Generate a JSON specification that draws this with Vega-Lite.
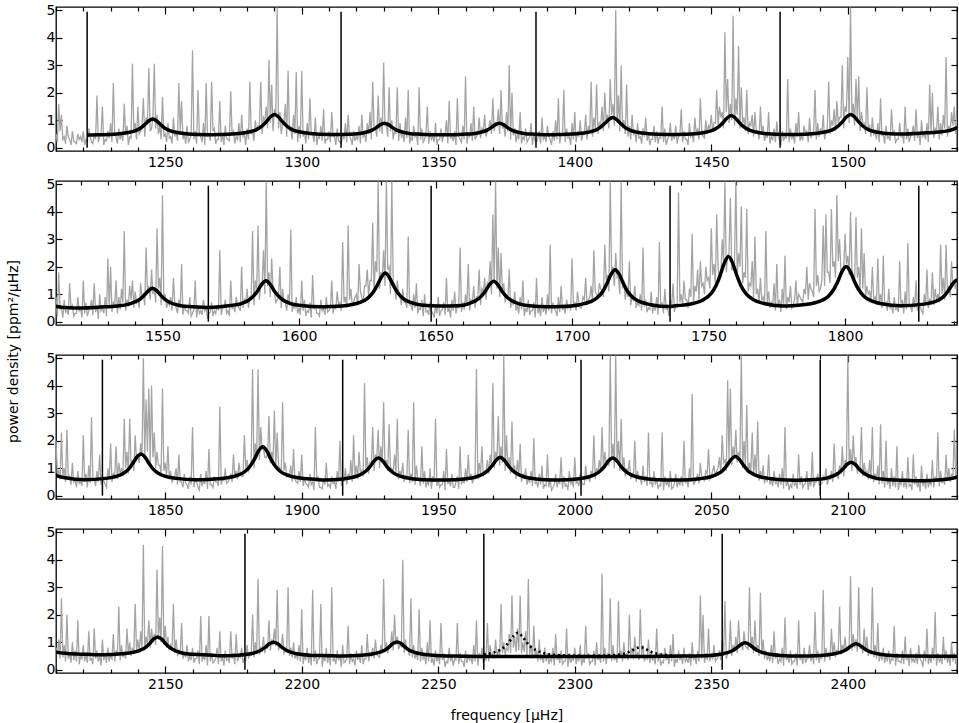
{
"$schema": "https://vega.github.io/schema/vega-lite/v6.json",
"background": "white",
"padding": {"left": 5, "top": 2, "right": 2, "bottom": 2},
"spacing": 30,
"bounds": "flush",
"config": {
  "view": {"stroke": "black", "strokeWidth": 1.3},
  "font": "DejaVu Sans",
  "axis": {"grid": false, "domain": false, "labelFont": "DejaVu Sans", "labelFontSize": 14, "labelColor": "black", "tickColor": "black", "tickWidth": 1.2, "titleFont": "DejaVu Sans", "titleFontSize": 14, "titleFontWeight": "normal", "titleColor": "black", "labelFlush": false, "labelOverlap": false}
},
"datasets": {
"vl": [{"f":1221.4},{"f":1314.4},{"f":1385.8},{"f":1475.2},{"f":1566.8},{"f":1648.4},{"f":1735.9},{"f":1827},{"f":1915.0},{"f":2002.3},{"f":2089.9},{"f":2179.2},{"f":2266.7},{"f":2354.0}],
"dot": [{"f":2266.7,"p":0.56},{"f":2270.1,"p":0.62},{"f":2272.6,"p":0.72},{"f":2274.6,"p":0.86},{"f":2276.1,"p":1.03},{"f":2277.6,"p":1.23},{"f":2279.1,"p":1.34},{"f":2280.6,"p":1.23},{"f":2282.1,"p":1.03},{"f":2283.6,"p":0.86},{"f":2285.6,"p":0.72},{"f":2288.1,"p":0.62},{"f":2292.1,"p":0.55},{"f":2299.1,"p":0.51},{"f":2304,"p":0.50},{"f":2311,"p":0.51},{"f":2315,"p":0.54},{"f":2317.5,"p":0.57},{"f":2319.5,"p":0.63},{"f":2321,"p":0.70},{"f":2322.5,"p":0.78},{"f":2324,"p":0.82},{"f":2325.5,"p":0.78},{"f":2327,"p":0.70},{"f":2328.5,"p":0.63},{"f":2330.5,"p":0.57},{"f":2333,"p":0.54},{"f":2337,"p":0.51},{"f":2344,"p":0.49}],
"fit": [
{"f":1221.4,"p":0.46},{"f":1225.4,"p":0.47},{"f":1232.4,"p":0.50},{"f":1236.4,"p":0.55},{"f":1238.9,"p":0.61},{"f":1240.9,"p":0.71},{"f":1242.4,"p":0.83},{"f":1243.9,"p":0.97},{"f":1245.4,"p":1.04},{"f":1246.9,"p":0.97},{"f":1248.4,"p":0.83},{"f":1249.9,"p":0.71},{"f":1251.9,"p":0.61},{"f":1254.4,"p":0.55},{"f":1258.4,"p":0.50},{"f":1265.4,"p":0.47},
{"f":1270,"p":0.48},{"f":1277,"p":0.52},{"f":1281,"p":0.58},{"f":1283.5,"p":0.66},{"f":1285.5,"p":0.79},{"f":1287,"p":0.94},{"f":1288.5,"p":1.12},{"f":1290,"p":1.21},{"f":1291.5,"p":1.12},{"f":1293,"p":0.94},{"f":1294.5,"p":0.79},{"f":1296.5,"p":0.66},{"f":1299,"p":0.58},{"f":1303,"p":0.52},{"f":1310.2,"p":0.48},
{"f":1317.3,"p":0.49},{"f":1321.3,"p":0.52},{"f":1323.8,"p":0.57},{"f":1325.8,"p":0.64},{"f":1327.3,"p":0.73},{"f":1328.8,"p":0.84},{"f":1330.3,"p":0.89},{"f":1331.8,"p":0.84},{"f":1333.3,"p":0.73},{"f":1334.8,"p":0.64},{"f":1336.8,"p":0.57},{"f":1339.3,"p":0.52},{"f":1343.3,"p":0.49},{"f":1350.3,"p":0.47},
{"f":1352.4,"p":0.47},{"f":1359.4,"p":0.49},{"f":1363.4,"p":0.52},{"f":1365.9,"p":0.57},{"f":1367.9,"p":0.64},{"f":1369.4,"p":0.73},{"f":1370.9,"p":0.84},{"f":1372.4,"p":0.89},{"f":1373.9,"p":0.84},{"f":1375.4,"p":0.73},{"f":1376.9,"p":0.64},{"f":1378.9,"p":0.57},{"f":1381.4,"p":0.52},{"f":1385.4,"p":0.49},{"f":1392.4,"p":0.47},
{"f":1393.9,"p":0.48},{"f":1400.9,"p":0.51},{"f":1404.9,"p":0.56},{"f":1407.4,"p":0.63},{"f":1409.4,"p":0.74},{"f":1410.9,"p":0.87},{"f":1412.4,"p":1.02},{"f":1413.9,"p":1.10},{"f":1415.4,"p":1.02},{"f":1416.9,"p":0.87},{"f":1418.4,"p":0.74},{"f":1420.4,"p":0.63},{"f":1422.9,"p":0.56},{"f":1426.9,"p":0.51},{"f":1433.9,"p":0.48},
{"f":1437.3,"p":0.48},{"f":1444.3,"p":0.51},{"f":1448.3,"p":0.57},{"f":1450.8,"p":0.65},{"f":1452.8,"p":0.77},{"f":1454.3,"p":0.91},{"f":1455.8,"p":1.08},{"f":1457.3,"p":1.17},{"f":1458.8,"p":1.08},{"f":1460.3,"p":0.91},{"f":1461.8,"p":0.77},{"f":1463.8,"p":0.65},{"f":1466.3,"p":0.57},{"f":1470.3,"p":0.51},{"f":1477.3,"p":0.48},
{"f":1481,"p":0.48},{"f":1488,"p":0.52},{"f":1492,"p":0.58},{"f":1494.5,"p":0.66},{"f":1496.5,"p":0.79},{"f":1498,"p":0.94},{"f":1499.5,"p":1.12},{"f":1501,"p":1.21},{"f":1502.5,"p":1.12},{"f":1504,"p":0.94},{"f":1505.5,"p":0.79},{"f":1507.5,"p":0.66},{"f":1510,"p":0.58},{"f":1514,"p":0.52},{"f":1521,"p":0.50},
{"f":1526.4,"p":0.53},{"f":1533.4,"p":0.57},{"f":1537.4,"p":0.63},{"f":1539.9,"p":0.72},{"f":1541.9,"p":0.83},{"f":1543.4,"p":0.97},{"f":1544.9,"p":1.13},{"f":1546.4,"p":1.22},{"f":1547.9,"p":1.13},{"f":1549.4,"p":0.96},{"f":1550.9,"p":0.81},{"f":1552.9,"p":0.69},{"f":1555.4,"p":0.61},{"f":1559.4,"p":0.55},{"f":1566.4,"p":0.52},
{"f":1574.9,"p":0.59},{"f":1578.9,"p":0.66},{"f":1581.4,"p":0.77},{"f":1583.4,"p":0.94},{"f":1584.9,"p":1.13},{"f":1586.4,"p":1.37},{"f":1587.9,"p":1.49},{"f":1589.4,"p":1.37},{"f":1590.9,"p":1.13},{"f":1592.4,"p":0.94},{"f":1594.4,"p":0.77},{"f":1596.9,"p":0.66},{"f":1600.9,"p":0.59},{"f":1607.9,"p":0.54},
{"f":1611.6,"p":0.55},{"f":1618.6,"p":0.61},{"f":1622.6,"p":0.71},{"f":1625.1,"p":0.85},{"f":1627.1,"p":1.06},{"f":1628.6,"p":1.31},{"f":1630.1,"p":1.61},{"f":1631.6,"p":1.77},{"f":1633.1,"p":1.61},{"f":1634.6,"p":1.31},{"f":1636.1,"p":1.06},{"f":1638.1,"p":0.85},{"f":1640.6,"p":0.71},{"f":1644.6,"p":0.61},{"f":1651.4,"p":0.57},
{"f":1658.3,"p":0.58},{"f":1662.3,"p":0.66},{"f":1664.8,"p":0.77},{"f":1666.8,"p":0.93},{"f":1668.3,"p":1.12},{"f":1669.8,"p":1.35},{"f":1671.3,"p":1.47},{"f":1672.8,"p":1.35},{"f":1674.3,"p":1.12},{"f":1675.8,"p":0.93},{"f":1677.8,"p":0.77},{"f":1680.3,"p":0.66},{"f":1684.3,"p":0.58},{"f":1691.3,"p":0.54},
{"f":1695.8,"p":0.55},{"f":1702.8,"p":0.62},{"f":1706.8,"p":0.73},{"f":1709.3,"p":0.88},{"f":1711.3,"p":1.11},{"f":1712.8,"p":1.39},{"f":1714.3,"p":1.72},{"f":1715.8,"p":1.89},{"f":1717.3,"p":1.72},{"f":1718.8,"p":1.39},{"f":1720.3,"p":1.11},{"f":1722.3,"p":0.88},{"f":1724.8,"p":0.73},{"f":1728.8,"p":0.62},{"f":1735.8,"p":0.55},
{"f":1737.3,"p":0.57},{"f":1744.3,"p":0.66},{"f":1748.3,"p":0.81},{"f":1750.8,"p":1.01},{"f":1752.8,"p":1.33},{"f":1754.3,"p":1.70},{"f":1755.8,"p":2.14},{"f":1757.3,"p":2.37},{"f":1758.8,"p":2.14},{"f":1760.3,"p":1.70},{"f":1761.8,"p":1.33},{"f":1763.8,"p":1.01},{"f":1766.3,"p":0.81},{"f":1770.3,"p":0.66},{"f":1777.3,"p":0.57},
{"f":1780.4,"p":0.58},{"f":1787.4,"p":0.65},{"f":1791.4,"p":0.77},{"f":1793.9,"p":0.93},{"f":1795.9,"p":1.18},{"f":1797.4,"p":1.47},{"f":1798.9,"p":1.83},{"f":1800.4,"p":2.01},{"f":1801.9,"p":1.83},{"f":1803.4,"p":1.47},{"f":1804.9,"p":1.18},{"f":1806.9,"p":0.93},{"f":1809.4,"p":0.77},{"f":1813.4,"p":0.65},{"f":1820.4,"p":0.58},
{"f":1828.1,"p":0.63},{"f":1832.1,"p":0.70},{"f":1834.6,"p":0.81},{"f":1836.6,"p":0.97},{"f":1838.1,"p":1.17},{"f":1839.6,"p":1.40},{"f":1841.1,"p":1.52},{"f":1842.6,"p":1.40},{"f":1844.1,"p":1.17},{"f":1845.6,"p":0.97},{"f":1847.6,"p":0.81},{"f":1850.1,"p":0.70},{"f":1854.1,"p":0.63},{"f":1861.1,"p":0.58},
{"f":1865.7,"p":0.59},{"f":1872.7,"p":0.65},{"f":1876.7,"p":0.75},{"f":1879.2,"p":0.88},{"f":1881.2,"p":1.09},{"f":1882.7,"p":1.33},{"f":1884.2,"p":1.63},{"f":1885.7,"p":1.78},{"f":1887.2,"p":1.63},{"f":1888.7,"p":1.33},{"f":1890.2,"p":1.09},{"f":1892.2,"p":0.88},{"f":1894.7,"p":0.75},{"f":1898.7,"p":0.65},{"f":1905.7,"p":0.59},
{"f":1908.1,"p":0.57},{"f":1915.1,"p":0.61},{"f":1919.1,"p":0.68},{"f":1921.6,"p":0.77},{"f":1923.6,"p":0.91},{"f":1925.1,"p":1.07},{"f":1926.6,"p":1.27},{"f":1928.1,"p":1.37},{"f":1929.6,"p":1.27},{"f":1931.1,"p":1.07},{"f":1932.6,"p":0.91},{"f":1934.6,"p":0.77},{"f":1937.1,"p":0.68},{"f":1941.1,"p":0.61},{"f":1948.1,"p":0.57},
{"f":1952.7,"p":0.57},{"f":1959.7,"p":0.61},{"f":1963.7,"p":0.68},{"f":1966.2,"p":0.78},{"f":1968.2,"p":0.92},{"f":1969.7,"p":1.09},{"f":1971.2,"p":1.29},{"f":1972.7,"p":1.40},{"f":1974.2,"p":1.29},{"f":1975.7,"p":1.09},{"f":1977.2,"p":0.92},{"f":1979.2,"p":0.78},{"f":1981.7,"p":0.68},{"f":1985.7,"p":0.61},{"f":1992.7,"p":0.57},
{"f":1993.9,"p":0.57},{"f":2000.9,"p":0.61},{"f":2004.9,"p":0.68},{"f":2007.4,"p":0.77},{"f":2009.4,"p":0.91},{"f":2010.9,"p":1.07},{"f":2012.4,"p":1.27},{"f":2013.9,"p":1.37},{"f":2015.4,"p":1.27},{"f":2016.9,"p":1.07},{"f":2018.4,"p":0.91},{"f":2020.4,"p":0.77},{"f":2022.9,"p":0.68},{"f":2026.9,"p":0.61},{"f":2033.9,"p":0.57},
{"f":2038.8,"p":0.57},{"f":2045.8,"p":0.62},{"f":2049.8,"p":0.69},{"f":2052.3,"p":0.79},{"f":2054.3,"p":0.93},{"f":2055.8,"p":1.11},{"f":2057.3,"p":1.32},{"f":2058.8,"p":1.43},{"f":2060.3,"p":1.32},{"f":2061.8,"p":1.11},{"f":2063.3,"p":0.93},{"f":2065.3,"p":0.79},{"f":2067.8,"p":0.69},{"f":2071.8,"p":0.62},{"f":2078.8,"p":0.57},
{"f":2081.2,"p":0.56},{"f":2088.2,"p":0.59},{"f":2092.2,"p":0.64},{"f":2094.7,"p":0.72},{"f":2096.7,"p":0.83},{"f":2098.2,"p":0.97},{"f":2099.7,"p":1.14},{"f":2101.2,"p":1.22},{"f":2102.7,"p":1.14},{"f":2104.2,"p":0.97},{"f":2105.7,"p":0.83},{"f":2107.7,"p":0.72},{"f":2110.2,"p":0.64},{"f":2114.2,"p":0.59},{"f":2121.2,"p":0.56},
{"f":2127.2,"p":0.54},{"f":2134.2,"p":0.58},{"f":2138.2,"p":0.63},{"f":2140.7,"p":0.70},{"f":2142.7,"p":0.80},{"f":2144.2,"p":0.94},{"f":2145.7,"p":1.11},{"f":2147.2,"p":1.19},{"f":2148.7,"p":1.11},{"f":2150.2,"p":0.94},{"f":2151.7,"p":0.80},{"f":2153.7,"p":0.69},{"f":2156.2,"p":0.61},{"f":2160.2,"p":0.56},{"f":2167.2,"p":0.53},
{"f":2169.7,"p":0.51},{"f":2176.7,"p":0.53},{"f":2180.7,"p":0.57},{"f":2183.2,"p":0.63},{"f":2185.2,"p":0.72},{"f":2186.7,"p":0.82},{"f":2188.2,"p":0.94},{"f":2189.7,"p":1.00},{"f":2191.2,"p":0.94},{"f":2192.7,"p":0.82},{"f":2194.2,"p":0.72},{"f":2196.2,"p":0.63},{"f":2198.7,"p":0.57},{"f":2202.7,"p":0.53},{"f":2209.7,"p":0.51},
{"f":2214.9,"p":0.50},{"f":2221.9,"p":0.53},{"f":2225.9,"p":0.57},{"f":2228.4,"p":0.63},{"f":2230.4,"p":0.71},{"f":2231.9,"p":0.82},{"f":2233.4,"p":0.95},{"f":2234.9,"p":1.01},{"f":2236.4,"p":0.95},{"f":2237.9,"p":0.82},{"f":2239.4,"p":0.71},{"f":2241.4,"p":0.63},{"f":2243.9,"p":0.57},{"f":2247.9,"p":0.53},{"f":2254.9,"p":0.50},
{"f":2275,"p":0.48},{"f":2300,"p":0.48},{"f":2325,"p":0.48},{"f":2335,"p":0.49},
{"f":2342.4,"p":0.50},{"f":2349.4,"p":0.52},{"f":2353.4,"p":0.56},{"f":2355.9,"p":0.62},{"f":2357.9,"p":0.70},{"f":2359.4,"p":0.80},{"f":2360.9,"p":0.92},{"f":2362.4,"p":0.98},{"f":2363.9,"p":0.92},{"f":2365.4,"p":0.80},{"f":2366.9,"p":0.70},{"f":2368.9,"p":0.62},{"f":2371.4,"p":0.56},{"f":2375.4,"p":0.52},{"f":2382.4,"p":0.50},
{"f":2390,"p":0.52},{"f":2394,"p":0.56},{"f":2396.5,"p":0.61},{"f":2398.5,"p":0.68},{"f":2400,"p":0.77},{"f":2401.5,"p":0.88},{"f":2403,"p":0.94},{"f":2404.5,"p":0.88},{"f":2406,"p":0.77},{"f":2407.5,"p":0.68},{"f":2409.5,"p":0.61},{"f":2412,"p":0.56},{"f":2416,"p":0.52},{"f":2423,"p":0.50},{"f":2440,"p":0.49}
],
"spec": [
{"f":1210,"p":0.5},{"f":1211,"p":1.6},{"f":1212,"p":1.2},{"f":1213,"p":0.4},{"f":1214,"p":0.8},{"f":1215,"p":0.3},{"f":1216,"p":0.6},{"f":1217,"p":0.2},{"f":1218,"p":0.5},{"f":1219,"p":0.4},
{"f":1220,"p":0.6},{"f":1221,"p":0.3},{"f":1222,"p":0.7},{"f":1223,"p":0.2},{"f":1224,"p":0.5},{"f":1225,"p":1.9},{"f":1226,"p":0.4},{"f":1227,"p":1.5},{"f":1228,"p":0.3},{"f":1229,"p":0.6},
{"f":1230,"p":0.9},{"f":1231,"p":2.35},{"f":1232,"p":0.4},{"f":1233,"p":0.7},{"f":1234,"p":0.5},{"f":1235,"p":1.6},{"f":1236,"p":0.8},{"f":1237,"p":0.4},{"f":1238,"p":3.05},{"f":1239,"p":0.9},
{"f":1240,"p":1.5},{"f":1241,"p":0.6},{"f":1242,"p":1.8},{"f":1243,"p":1.1},{"f":1244,"p":2.9},{"f":1245,"p":0.7},{"f":1246,"p":3.05},{"f":1247,"p":1.2},{"f":1248,"p":0.8},{"f":1249,"p":1.85},
{"f":1250,"p":0.5},{"f":1251,"p":0.9},{"f":1252,"p":0.4},{"f":1253,"p":1.1},{"f":1254,"p":0.6},{"f":1255,"p":2.35},{"f":1256,"p":1.7},{"f":1257,"p":0.5},{"f":1258,"p":0.8},{"f":1259,"p":0.3},
{"f":1260,"p":3.55},{"f":1261,"p":0.6},{"f":1262,"p":2.1},{"f":1263,"p":0.4},{"f":1264,"p":0.9},{"f":1265,"p":2.35},{"f":1266,"p":0.5},{"f":1267,"p":2.4},{"f":1268,"p":0.7},{"f":1269,"p":0.3},
{"f":1270,"p":1.7},{"f":1271,"p":0.5},{"f":1272,"p":0.8},{"f":1273,"p":0.3},{"f":1274,"p":2.05},{"f":1275,"p":0.6},{"f":1276,"p":0.4},{"f":1277,"p":0.9},{"f":1278,"p":1.2},{"f":1279,"p":0.5},
{"f":1280,"p":0.7},{"f":1281,"p":2.4},{"f":1282,"p":0.6},{"f":1283,"p":1.0},{"f":1284,"p":0.8},{"f":1285,"p":2.4},{"f":1286,"p":1.1},{"f":1287,"p":1.5},{"f":1288,"p":3.2},{"f":1289,"p":2.3},
{"f":1290,"p":1.4},{"f":1291,"p":5.1},{"f":1292,"p":1.3},{"f":1293,"p":0.9},{"f":1294,"p":1.6},{"f":1295,"p":2.8},{"f":1296,"p":0.7},{"f":1297,"p":1.2},{"f":1298,"p":2.75},{"f":1299,"p":0.8},
{"f":1300,"p":2.8},{"f":1301,"p":0.6},{"f":1302,"p":0.9},{"f":1303,"p":1.8},{"f":1304,"p":0.5},{"f":1305,"p":1.1},{"f":1306,"p":0.4},{"f":1307,"p":0.8},{"f":1308,"p":1.4},{"f":1309,"p":0.3},
{"f":1310,"p":0.6},{"f":1311,"p":1.3},{"f":1312,"p":0.4},{"f":1313,"p":0.7},{"f":1314,"p":0.2},{"f":1315,"p":0.5},{"f":1316,"p":0.9},{"f":1317,"p":1.2},{"f":1318,"p":0.3},{"f":1319,"p":0.6},
{"f":1320,"p":0.4},{"f":1321,"p":0.8},{"f":1322,"p":1.2},{"f":1323,"p":0.5},{"f":1324,"p":0.9},{"f":1325,"p":1.3},{"f":1326,"p":2.4},{"f":1327,"p":0.7},{"f":1328,"p":1.9},{"f":1329,"p":1.1},
{"f":1330,"p":3.1},{"f":1331,"p":0.8},{"f":1332,"p":2.2},{"f":1333,"p":1.0},{"f":1334,"p":0.6},{"f":1335,"p":2.2},{"f":1336,"p":0.9},{"f":1337,"p":0.5},{"f":1338,"p":1.1},{"f":1339,"p":2.1},
{"f":1340,"p":0.4},{"f":1341,"p":0.8},{"f":1342,"p":0.5},{"f":1343,"p":2.2},{"f":1344,"p":0.7},{"f":1345,"p":0.3},{"f":1346,"p":1.5},{"f":1347,"p":0.6},{"f":1348,"p":0.4},{"f":1349,"p":0.9},
{"f":1350,"p":0.3},{"f":1351,"p":0.7},{"f":1352,"p":0.5},{"f":1353,"p":1.0},{"f":1354,"p":1.7},{"f":1355,"p":0.4},{"f":1356,"p":0.6},{"f":1357,"p":1.8},{"f":1358,"p":0.3},{"f":1359,"p":0.8},
{"f":1360,"p":2.6},{"f":1361,"p":0.5},{"f":1362,"p":0.9},{"f":1363,"p":1.5},{"f":1364,"p":0.4},{"f":1365,"p":1.1},{"f":1366,"p":0.7},{"f":1367,"p":1.2},{"f":1368,"p":0.6},{"f":1369,"p":1.0},
{"f":1370,"p":1.8},{"f":1371,"p":0.9},{"f":1372,"p":1.4},{"f":1373,"p":2.1},{"f":1374,"p":0.8},{"f":1375,"p":1.3},{"f":1376,"p":3.0},{"f":1377,"p":2.0},{"f":1378,"p":0.7},{"f":1379,"p":0.5},
{"f":1380,"p":1.3},{"f":1381,"p":0.4},{"f":1382,"p":0.7},{"f":1383,"p":0.3},{"f":1384,"p":0.9},{"f":1385,"p":0.5},{"f":1386,"p":0.2},{"f":1387,"p":0.6},{"f":1388,"p":1.1},{"f":1389,"p":0.4},
{"f":1390,"p":0.8},{"f":1391,"p":0.3},{"f":1392,"p":0.6},{"f":1393,"p":1.0},{"f":1394,"p":1.8},{"f":1395,"p":0.5},{"f":1396,"p":2.1},{"f":1397,"p":0.7},{"f":1398,"p":0.4},{"f":1399,"p":0.9},
{"f":1400,"p":1.3},{"f":1401,"p":0.6},{"f":1402,"p":1.0},{"f":1403,"p":0.5},{"f":1404,"p":1.2},{"f":1405,"p":0.8},{"f":1406,"p":2.4},{"f":1407,"p":1.1},{"f":1408,"p":2.3},{"f":1409,"p":0.9},
{"f":1410,"p":1.5},{"f":1411,"p":2.0},{"f":1412,"p":1.2},{"f":1413,"p":2.5},{"f":1414,"p":1.6},{"f":1415,"p":5.0},{"f":1416,"p":1.9},{"f":1417,"p":3.0},{"f":1418,"p":1.0},{"f":1419,"p":2.3},
{"f":1420,"p":0.8},{"f":1421,"p":1.2},{"f":1422,"p":0.6},{"f":1423,"p":0.9},{"f":1424,"p":0.4},{"f":1425,"p":0.7},{"f":1426,"p":1.1},{"f":1427,"p":0.5},{"f":1428,"p":0.3},{"f":1429,"p":0.8},
{"f":1430,"p":0.6},{"f":1431,"p":0.4},{"f":1432,"p":1.5},{"f":1433,"p":0.7},{"f":1434,"p":0.3},{"f":1435,"p":0.9},{"f":1436,"p":0.5},{"f":1437,"p":0.8},{"f":1438,"p":0.4},{"f":1439,"p":1.4},
{"f":1440,"p":0.6},{"f":1441,"p":0.3},{"f":1442,"p":0.9},{"f":1443,"p":0.5},{"f":1444,"p":1.1},{"f":1445,"p":0.7},{"f":1446,"p":1.8},{"f":1447,"p":0.4},{"f":1448,"p":1.0},{"f":1449,"p":0.8},
{"f":1450,"p":1.2},{"f":1451,"p":0.9},{"f":1452,"p":2.1},{"f":1453,"p":1.5},{"f":1454,"p":1.3},{"f":1455,"p":4.2},{"f":1456,"p":2.5},{"f":1457,"p":1.6},{"f":1458,"p":4.8},{"f":1459,"p":1.8},
{"f":1460,"p":3.7},{"f":1461,"p":2.2},{"f":1462,"p":1.1},{"f":1463,"p":2.1},{"f":1464,"p":0.9},{"f":1465,"p":1.2},{"f":1466,"p":1.3},{"f":1467,"p":0.6},{"f":1468,"p":1.5},{"f":1469,"p":0.8},
{"f":1470,"p":0.5},{"f":1471,"p":1.3},{"f":1472,"p":0.4},{"f":1473,"p":0.7},{"f":1474,"p":0.95},{"f":1475,"p":0.3},{"f":1476,"p":0.6},{"f":1477,"p":0.4},{"f":1478,"p":2.5},{"f":1479,"p":0.7},
{"f":1480,"p":0.5},{"f":1481,"p":0.9},{"f":1482,"p":1.3},{"f":1483,"p":0.4},{"f":1484,"p":0.8},{"f":1485,"p":0.6},{"f":1486,"p":1.1},{"f":1487,"p":0.5},{"f":1488,"p":2.1},{"f":1489,"p":0.9},
{"f":1490,"p":0.7},{"f":1491,"p":1.2},{"f":1492,"p":0.6},{"f":1493,"p":2.4},{"f":1494,"p":1.0},{"f":1495,"p":1.4},{"f":1496,"p":1.7},{"f":1497,"p":1.1},{"f":1498,"p":3.0},{"f":1499,"p":1.5},
{"f":1500,"p":3.3},{"f":1501,"p":5.1},{"f":1502,"p":1.6},{"f":1503,"p":2.5},{"f":1504,"p":2.6},{"f":1505,"p":1.3},{"f":1506,"p":0.9},{"f":1507,"p":2.2},{"f":1508,"p":0.8},{"f":1509,"p":1.1},
{"f":1510,"p":0.6},{"f":1511,"p":0.9},{"f":1512,"p":1.8},{"f":1513,"p":0.5},{"f":1514,"p":0.8},{"f":1515,"p":0.4},{"f":1516,"p":1.4},{"f":1517,"p":0.6},{"f":1518,"p":0.3},{"f":1519,"p":0.9},
{"f":1520,"p":0.5},{"f":1521,"p":1.5},{"f":1522,"p":0.7},{"f":1523,"p":0.4},{"f":1524,"p":0.8},{"f":1525,"p":1.4},{"f":1526,"p":0.6},{"f":1527,"p":1.0},{"f":1528,"p":0.5},{"f":1529,"p":0.9},
{"f":1530,"p":2.3},{"f":1531,"p":2.0},{"f":1532,"p":0.7},{"f":1533,"p":1.5},{"f":1534,"p":0.9},{"f":1535,"p":1.2},{"f":1536,"p":3.3},{"f":1537,"p":0.8},{"f":1538,"p":1.3},{"f":1539,"p":1.5},
{"f":1540,"p":1.1},{"f":1541,"p":0.8},{"f":1542,"p":1.4},{"f":1543,"p":1.0},{"f":1544,"p":2.7},{"f":1545,"p":1.3},{"f":1546,"p":1.9},{"f":1547,"p":1.2},{"f":1548,"p":3.4},{"f":1549,"p":1.6},
{"f":1550,"p":4.6},{"f":1551,"p":1.0},{"f":1552,"p":0.7},{"f":1553,"p":0.9},{"f":1554,"p":1.6},{"f":1555,"p":0.5},{"f":1556,"p":0.8},{"f":1557,"p":2.1},{"f":1558,"p":0.6},{"f":1559,"p":0.4},
{"f":1560,"p":0.9},{"f":1561,"p":0.3},{"f":1562,"p":1.5},{"f":1563,"p":0.6},{"f":1564,"p":0.4},{"f":1565,"p":0.8},{"f":1566,"p":0.5},{"f":1567,"p":0.3},{"f":1568,"p":0.7},{"f":1569,"p":0.4},
{"f":1570,"p":0.6},{"f":1571,"p":2.6},{"f":1572,"p":0.5},{"f":1573,"p":0.8},{"f":1574,"p":0.4},{"f":1575,"p":1.5},{"f":1576,"p":0.6},{"f":1577,"p":0.9},{"f":1578,"p":0.5},{"f":1579,"p":2.0},
{"f":1580,"p":0.8},{"f":1581,"p":1.2},{"f":1582,"p":0.9},{"f":1583,"p":3.3},{"f":1584,"p":1.5},{"f":1585,"p":3.5},{"f":1586,"p":1.4},{"f":1587,"p":2.6},{"f":1588,"p":5.1},{"f":1589,"p":1.8},
{"f":1590,"p":2.3},{"f":1591,"p":1.1},{"f":1592,"p":0.8},{"f":1593,"p":2.0},{"f":1594,"p":1.2},{"f":1595,"p":0.7},{"f":1596,"p":1.0},{"f":1597,"p":3.35},{"f":1598,"p":0.6},{"f":1599,"p":0.9},
{"f":1600,"p":0.5},{"f":1601,"p":1.5},{"f":1602,"p":0.8},{"f":1603,"p":0.4},{"f":1604,"p":0.7},{"f":1605,"p":1.7},{"f":1606,"p":0.6},{"f":1607,"p":0.3},{"f":1608,"p":0.8},{"f":1609,"p":0.5},
{"f":1610,"p":0.9},{"f":1611,"p":0.4},{"f":1612,"p":1.5},{"f":1613,"p":0.6},{"f":1614,"p":1.1},{"f":1615,"p":0.7},{"f":1616,"p":2.9},{"f":1617,"p":0.9},{"f":1618,"p":3.5},{"f":1619,"p":1.2},
{"f":1620,"p":0.7},{"f":1621,"p":1.0},{"f":1622,"p":2.1},{"f":1623,"p":0.9},{"f":1624,"p":1.3},{"f":1625,"p":1.9},{"f":1626,"p":1.5},{"f":1627,"p":3.6},{"f":1628,"p":2.2},{"f":1629,"p":5.1},
{"f":1630,"p":1.8},{"f":1631,"p":2.6},{"f":1632,"p":5.1},{"f":1633,"p":2.0},{"f":1634,"p":5.1},{"f":1635,"p":1.4},{"f":1636,"p":1.5},{"f":1637,"p":0.9},{"f":1638,"p":1.2},{"f":1639,"p":0.7},
{"f":1640,"p":3.1},{"f":1641,"p":0.6},{"f":1642,"p":1.0},{"f":1643,"p":1.4},{"f":1644,"p":0.5},{"f":1645,"p":0.8},{"f":1646,"p":1.0},{"f":1647,"p":0.4},{"f":1648,"p":0.7},{"f":1649,"p":0.3},
{"f":1650,"p":0.6},{"f":1651,"p":0.9},{"f":1652,"p":0.4},{"f":1653,"p":0.7},{"f":1654,"p":1.6},{"f":1655,"p":0.5},{"f":1656,"p":0.8},{"f":1657,"p":1.1},{"f":1658,"p":0.6},{"f":1659,"p":2.7},
{"f":1660,"p":0.7},{"f":1661,"p":1.0},{"f":1662,"p":2.1},{"f":1663,"p":0.8},{"f":1664,"p":1.3},{"f":1665,"p":0.9},{"f":1666,"p":1.9},{"f":1667,"p":1.2},{"f":1668,"p":1.6},{"f":1669,"p":1.4},
{"f":1670,"p":2.2},{"f":1671,"p":3.9},{"f":1672,"p":5.1},{"f":1673,"p":2.7},{"f":1674,"p":2.5},{"f":1675,"p":1.4},{"f":1676,"p":1.0},{"f":1677,"p":1.9},{"f":1678,"p":0.8},{"f":1679,"p":1.1},
{"f":1680,"p":0.6},{"f":1681,"p":0.9},{"f":1682,"p":1.5},{"f":1683,"p":0.5},{"f":1684,"p":0.8},{"f":1685,"p":0.4},{"f":1686,"p":0.7},{"f":1687,"p":1.6},{"f":1688,"p":0.5},{"f":1689,"p":0.9},
{"f":1690,"p":0.6},{"f":1691,"p":1.0},{"f":1692,"p":2.8},{"f":1693,"p":0.7},{"f":1694,"p":0.4},{"f":1695,"p":0.9},{"f":1696,"p":1.3},{"f":1697,"p":0.5},{"f":1698,"p":0.8},{"f":1699,"p":0.6},
{"f":1700,"p":2.3},{"f":1701,"p":0.7},{"f":1702,"p":1.1},{"f":1703,"p":0.5},{"f":1704,"p":0.9},{"f":1705,"p":1.6},{"f":1706,"p":0.8},{"f":1707,"p":1.3},{"f":1708,"p":2.6},{"f":1709,"p":1.0},
{"f":1710,"p":1.4},{"f":1711,"p":1.1},{"f":1712,"p":2.8},{"f":1713,"p":1.7},{"f":1714,"p":5.1},{"f":1715,"p":2.0},{"f":1716,"p":2.5},{"f":1717,"p":1.6},{"f":1718,"p":5.1},{"f":1719,"p":1.5},
{"f":1720,"p":1.2},{"f":1721,"p":2.2},{"f":1722,"p":0.9},{"f":1723,"p":1.3},{"f":1724,"p":0.7},{"f":1725,"p":1.0},{"f":1726,"p":2.7},{"f":1727,"p":0.8},{"f":1728,"p":0.5},{"f":1729,"p":1.1},
{"f":1730,"p":0.6},{"f":1731,"p":0.9},{"f":1732,"p":2.9},{"f":1733,"p":0.7},{"f":1734,"p":1.2},{"f":1735,"p":0.5},{"f":1736,"p":0.8},{"f":1737,"p":1.4},{"f":1738,"p":0.6},{"f":1739,"p":4.7},
{"f":1740,"p":1.0},{"f":1741,"p":1.5},{"f":1742,"p":0.8},{"f":1743,"p":1.2},{"f":1744,"p":3.2},{"f":1745,"p":1.3},{"f":1746,"p":1.9},{"f":1747,"p":2.2},{"f":1748,"p":1.4},{"f":1749,"p":2.0},
{"f":1750,"p":1.6},{"f":1751,"p":3.4},{"f":1752,"p":2.1},{"f":1753,"p":3.9},{"f":1754,"p":1.5},{"f":1755,"p":3.0},{"f":1756,"p":5.1},{"f":1757,"p":2.4},{"f":1758,"p":4.5},{"f":1759,"p":1.9},
{"f":1760,"p":5.1},{"f":1761,"p":2.5},{"f":1762,"p":4.2},{"f":1763,"p":1.8},{"f":1764,"p":4.1},{"f":1765,"p":1.4},{"f":1766,"p":2.2},{"f":1767,"p":3.1},{"f":1768,"p":1.2},{"f":1769,"p":1.6},
{"f":1770,"p":0.9},{"f":1771,"p":3.3},{"f":1772,"p":1.1},{"f":1773,"p":0.7},{"f":1774,"p":1.4},{"f":1775,"p":2.1},{"f":1776,"p":0.8},{"f":1777,"p":1.2},{"f":1778,"p":2.4},{"f":1779,"p":0.9},
{"f":1780,"p":1.3},{"f":1781,"p":0.6},{"f":1782,"p":1.5},{"f":1783,"p":1.0},{"f":1784,"p":0.8},{"f":1785,"p":1.2},{"f":1786,"p":2.0},{"f":1787,"p":1.4},{"f":1788,"p":1.1},{"f":1789,"p":4.1},
{"f":1790,"p":1.7},{"f":1791,"p":1.2},{"f":1792,"p":3.5},{"f":1793,"p":3.9},{"f":1794,"p":1.8},{"f":1795,"p":4.1},{"f":1796,"p":2.2},{"f":1797,"p":4.6},{"f":1798,"p":3.0},{"f":1799,"p":1.9},
{"f":1800,"p":3.2},{"f":1801,"p":2.4},{"f":1802,"p":4.0},{"f":1803,"p":1.6},{"f":1804,"p":3.8},{"f":1805,"p":2.0},{"f":1806,"p":3.4},{"f":1807,"p":2.5},{"f":1808,"p":1.3},{"f":1809,"p":1.1},
{"f":1810,"p":2.0},{"f":1811,"p":0.9},{"f":1812,"p":2.3},{"f":1813,"p":1.0},{"f":1814,"p":2.4},{"f":1815,"p":0.7},{"f":1816,"p":1.2},{"f":1817,"p":0.6},{"f":1818,"p":0.9},{"f":1819,"p":0.5},
{"f":1820,"p":2.2},{"f":1821,"p":0.8},{"f":1822,"p":1.1},{"f":1823,"p":2.85},{"f":1824,"p":0.6},{"f":1825,"p":0.9},{"f":1826,"p":1.5},{"f":1827,"p":0.7},{"f":1828,"p":0.4},{"f":1829,"p":1.0},
{"f":1830,"p":1.9},{"f":1831,"p":0.8},{"f":1832,"p":1.8},{"f":1833,"p":1.2},{"f":1834,"p":1.0},{"f":1835,"p":2.8},{"f":1836,"p":1.6},{"f":1837,"p":2.8},{"f":1838,"p":1.3},{"f":1839,"p":2.2},
{"f":1840,"p":1.4},{"f":1841,"p":1.9},{"f":1842,"p":5.0},{"f":1843,"p":3.5},{"f":1844,"p":3.9},{"f":1845,"p":4.0},{"f":1846,"p":2.3},{"f":1847,"p":1.6},{"f":1848,"p":1.1},{"f":1849,"p":3.9},
{"f":1850,"p":1.2},{"f":1851,"p":1.8},{"f":1852,"p":0.9},{"f":1853,"p":0.6},{"f":1854,"p":1.0},{"f":1855,"p":1.5},{"f":1856,"p":0.5},{"f":1857,"p":0.8},{"f":1858,"p":0.4},{"f":1859,"p":0.7},
{"f":1860,"p":2.5},{"f":1861,"p":0.6},{"f":1862,"p":0.3},{"f":1863,"p":0.8},{"f":1864,"p":0.5},{"f":1865,"p":0.9},{"f":1866,"p":1.7},{"f":1867,"p":0.4},{"f":1868,"p":0.7},{"f":1869,"p":0.5},
{"f":1870,"p":3.25},{"f":1871,"p":0.6},{"f":1872,"p":1.0},{"f":1873,"p":0.5},{"f":1874,"p":0.8},{"f":1875,"p":1.5},{"f":1876,"p":0.9},{"f":1877,"p":1.2},{"f":1878,"p":0.7},{"f":1879,"p":2.2},
{"f":1880,"p":1.3},{"f":1881,"p":1.0},{"f":1882,"p":4.6},{"f":1883,"p":1.9},{"f":1884,"p":4.6},{"f":1885,"p":2.5},{"f":1886,"p":1.7},{"f":1887,"p":1.4},{"f":1888,"p":2.9},{"f":1889,"p":1.6},
{"f":1890,"p":3.1},{"f":1891,"p":2.3},{"f":1892,"p":1.0},{"f":1893,"p":3.4},{"f":1894,"p":1.2},{"f":1895,"p":0.8},{"f":1896,"p":1.1},{"f":1897,"p":1.7},{"f":1898,"p":0.5},{"f":1899,"p":0.9},
{"f":1900,"p":1.5},{"f":1901,"p":0.6},{"f":1902,"p":0.4},{"f":1903,"p":0.8},{"f":1904,"p":0.5},{"f":1905,"p":2.5},{"f":1906,"p":0.7},{"f":1907,"p":0.3},{"f":1908,"p":0.6},{"f":1909,"p":1.2},
{"f":1910,"p":0.4},{"f":1911,"p":0.7},{"f":1912,"p":0.5},{"f":1913,"p":0.9},{"f":1914,"p":2.0},{"f":1915,"p":0.6},{"f":1916,"p":1.0},{"f":1917,"p":0.8},{"f":1918,"p":1.3},{"f":1919,"p":2.2},
{"f":1920,"p":1.1},{"f":1921,"p":1.6},{"f":1922,"p":0.9},{"f":1923,"p":4.1},{"f":1924,"p":1.4},{"f":1925,"p":1.2},{"f":1926,"p":2.5},{"f":1927,"p":1.5},{"f":1928,"p":2.4},{"f":1929,"p":1.8},
{"f":1930,"p":3.4},{"f":1931,"p":1.3},{"f":1932,"p":2.6},{"f":1933,"p":1.0},{"f":1934,"p":1.5},{"f":1935,"p":2.8},{"f":1936,"p":0.9},{"f":1937,"p":1.2},{"f":1938,"p":0.7},{"f":1939,"p":2.4},
{"f":1940,"p":0.8},{"f":1941,"p":3.4},{"f":1942,"p":1.1},{"f":1943,"p":0.6},{"f":1944,"p":1.8},{"f":1945,"p":0.9},{"f":1946,"p":0.5},{"f":1947,"p":1.0},{"f":1948,"p":0.7},{"f":1949,"p":2.8},
{"f":1950,"p":0.6},{"f":1951,"p":0.4},{"f":1952,"p":0.9},{"f":1953,"p":1.7},{"f":1954,"p":0.5},{"f":1955,"p":0.8},{"f":1956,"p":0.3},{"f":1957,"p":0.7},{"f":1958,"p":1.8},{"f":1959,"p":0.6},
{"f":1960,"p":1.0},{"f":1961,"p":1.5},{"f":1962,"p":0.8},{"f":1963,"p":0.6},{"f":1964,"p":4.6},{"f":1965,"p":1.2},{"f":1966,"p":1.8},{"f":1967,"p":0.9},{"f":1968,"p":1.3},{"f":1969,"p":1.5},
{"f":1970,"p":4.1},{"f":1971,"p":1.6},{"f":1972,"p":2.9},{"f":1973,"p":1.8},{"f":1974,"p":5.1},{"f":1975,"p":2.2},{"f":1976,"p":1.4},{"f":1977,"p":2.7},{"f":1978,"p":1.1},{"f":1979,"p":1.3},
{"f":1980,"p":1.9},{"f":1981,"p":0.8},{"f":1982,"p":1.0},{"f":1983,"p":0.6},{"f":1984,"p":0.9},{"f":1985,"p":2.1},{"f":1986,"p":0.5},{"f":1987,"p":0.8},{"f":1988,"p":1.1},{"f":1989,"p":0.4},
{"f":1990,"p":1.5},{"f":1991,"p":0.6},{"f":1992,"p":0.3},{"f":1993,"p":0.8},{"f":1994,"p":0.5},{"f":1995,"p":1.4},{"f":1996,"p":0.7},{"f":1997,"p":0.4},{"f":1998,"p":0.9},{"f":1999,"p":0.6},
{"f":2000,"p":1.4},{"f":2001,"p":0.5},{"f":2002,"p":0.8},{"f":2003,"p":0.4},{"f":2004,"p":1.1},{"f":2005,"p":0.7},{"f":2006,"p":0.9},{"f":2007,"p":2.2},{"f":2008,"p":1.0},{"f":2009,"p":1.3},
{"f":2010,"p":2.5},{"f":2011,"p":1.6},{"f":2012,"p":1.2},{"f":2013,"p":5.1},{"f":2014,"p":1.9},{"f":2015,"p":5.1},{"f":2016,"p":2.0},{"f":2017,"p":2.8},{"f":2018,"p":1.4},{"f":2019,"p":1.0},
{"f":2020,"p":1.3},{"f":2021,"p":0.8},{"f":2022,"p":2.0},{"f":2023,"p":0.9},{"f":2024,"p":0.6},{"f":2025,"p":1.1},{"f":2026,"p":0.7},{"f":2027,"p":2.3},{"f":2028,"p":0.5},{"f":2029,"p":0.9},
{"f":2030,"p":0.6},{"f":2031,"p":0.4},{"f":2032,"p":2.3},{"f":2033,"p":0.7},{"f":2034,"p":0.5},{"f":2035,"p":0.9},{"f":2036,"p":0.3},{"f":2037,"p":0.8},{"f":2038,"p":0.5},{"f":2039,"p":0.7},
{"f":2040,"p":2.0},{"f":2041,"p":0.6},{"f":2042,"p":1.0},{"f":2043,"p":3.7},{"f":2044,"p":0.5},{"f":2045,"p":0.8},{"f":2046,"p":1.2},{"f":2047,"p":0.6},{"f":2048,"p":0.9},{"f":2049,"p":1.7},
{"f":2050,"p":0.7},{"f":2051,"p":1.1},{"f":2052,"p":0.9},{"f":2053,"p":1.4},{"f":2054,"p":2.2},{"f":2055,"p":1.3},{"f":2056,"p":4.2},{"f":2057,"p":3.9},{"f":2058,"p":1.8},{"f":2059,"p":2.4},
{"f":2060,"p":1.6},{"f":2061,"p":5.1},{"f":2062,"p":2.0},{"f":2063,"p":3.3},{"f":2064,"p":1.2},{"f":2065,"p":2.3},{"f":2066,"p":1.5},{"f":2067,"p":2.7},{"f":2068,"p":0.9},{"f":2069,"p":1.1},
{"f":2070,"p":0.7},{"f":2071,"p":1.5},{"f":2072,"p":0.6},{"f":2073,"p":0.9},{"f":2074,"p":0.5},{"f":2075,"p":0.8},{"f":2076,"p":1.0},{"f":2077,"p":2.5},{"f":2078,"p":0.6},{"f":2079,"p":0.4},
{"f":2080,"p":0.8},{"f":2081,"p":0.5},{"f":2082,"p":1.5},{"f":2083,"p":0.7},{"f":2084,"p":0.4},{"f":2085,"p":0.9},{"f":2086,"p":0.6},{"f":2087,"p":1.6},{"f":2088,"p":0.5},{"f":2089,"p":0.8},
{"f":2090,"p":0.4},{"f":2091,"p":0.7},{"f":2092,"p":1.0},{"f":2093,"p":0.6},{"f":2094,"p":0.9},{"f":2095,"p":1.9},{"f":2096,"p":0.8},{"f":2097,"p":1.1},{"f":2098,"p":1.8},{"f":2099,"p":1.3},
{"f":2100,"p":5.1},{"f":2101,"p":1.7},{"f":2102,"p":2.2},{"f":2103,"p":1.4},{"f":2104,"p":1.0},{"f":2105,"p":2.5},{"f":2106,"p":1.2},{"f":2107,"p":0.9},{"f":2108,"p":1.3},{"f":2109,"p":2.5},
{"f":2110,"p":0.8},{"f":2111,"p":1.1},{"f":2112,"p":2.6},{"f":2113,"p":0.9},{"f":2114,"p":2.0},{"f":2115,"p":0.6},{"f":2116,"p":1.0},{"f":2117,"p":0.7},{"f":2118,"p":1.8},{"f":2119,"p":0.5},
{"f":2120,"p":0.9},{"f":2121,"p":0.6},{"f":2122,"p":1.4},{"f":2123,"p":0.4},{"f":2124,"p":1.5},{"f":2125,"p":0.7},{"f":2126,"p":0.5},{"f":2127,"p":1.1},{"f":2128,"p":0.6},{"f":2129,"p":0.8},
{"f":2130,"p":0.5},{"f":2131,"p":1.3},{"f":2132,"p":0.7},{"f":2133,"p":2.3},{"f":2134,"p":0.9},{"f":2135,"p":0.6},{"f":2136,"p":1.5},{"f":2137,"p":1.0},{"f":2138,"p":0.8},{"f":2139,"p":2.4},
{"f":2140,"p":1.1},{"f":2141,"p":1.4},{"f":2142,"p":4.55},{"f":2143,"p":1.2},{"f":2144,"p":1.8},{"f":2145,"p":1.5},{"f":2146,"p":1.3},{"f":2147,"p":3.65},{"f":2148,"p":1.9},{"f":2149,"p":4.5},
{"f":2150,"p":1.6},{"f":2151,"p":1.2},{"f":2152,"p":0.9},{"f":2153,"p":2.4},{"f":2154,"p":1.1},{"f":2155,"p":0.7},{"f":2156,"p":1.7},{"f":2157,"p":0.6},{"f":2158,"p":0.9},{"f":2159,"p":0.5},
{"f":2160,"p":0.8},{"f":2161,"p":0.4},{"f":2162,"p":0.7},{"f":2163,"p":1.95},{"f":2164,"p":0.5},{"f":2165,"p":0.9},{"f":2166,"p":1.95},{"f":2167,"p":0.6},{"f":2168,"p":0.3},{"f":2169,"p":0.8},
{"f":2170,"p":1.4},{"f":2171,"p":0.5},{"f":2172,"p":0.7},{"f":2173,"p":0.4},{"f":2174,"p":1.4},{"f":2175,"p":0.6},{"f":2176,"p":1.3},{"f":2177,"p":0.5},{"f":2178,"p":0.8},{"f":2179,"p":0.4},
{"f":2180,"p":0.9},{"f":2181,"p":0.6},{"f":2182,"p":2.0},{"f":2183,"p":1.0},{"f":2184,"p":3.3},{"f":2185,"p":0.8},{"f":2186,"p":1.2},{"f":2187,"p":0.9},{"f":2188,"p":1.8},{"f":2189,"p":1.1},
{"f":2190,"p":1.5},{"f":2191,"p":2.9},{"f":2192,"p":0.9},{"f":2193,"p":1.3},{"f":2194,"p":0.7},{"f":2195,"p":3.0},{"f":2196,"p":0.8},{"f":2197,"p":1.0},{"f":2198,"p":0.6},{"f":2199,"p":0.9},
{"f":2200,"p":2.2},{"f":2201,"p":0.5},{"f":2202,"p":0.8},{"f":2203,"p":0.6},{"f":2204,"p":2.9},{"f":2205,"p":0.7},{"f":2206,"p":0.4},{"f":2207,"p":2.4},{"f":2208,"p":0.5},{"f":2209,"p":0.8},
{"f":2210,"p":0.6},{"f":2211,"p":3.0},{"f":2212,"p":0.4},{"f":2213,"p":0.7},{"f":2214,"p":0.5},{"f":2215,"p":0.9},{"f":2216,"p":0.3},{"f":2217,"p":1.6},{"f":2218,"p":0.6},{"f":2219,"p":0.4},
{"f":2220,"p":0.7},{"f":2221,"p":0.5},{"f":2222,"p":0.9},{"f":2223,"p":0.4},{"f":2224,"p":1.3},{"f":2225,"p":0.6},{"f":2226,"p":0.8},{"f":2227,"p":1.1},{"f":2228,"p":0.5},{"f":2229,"p":0.9},
{"f":2230,"p":3.3},{"f":2231,"p":1.0},{"f":2232,"p":0.8},{"f":2233,"p":1.4},{"f":2234,"p":2.0},{"f":2235,"p":1.2},{"f":2236,"p":0.9},{"f":2237,"p":4.0},{"f":2238,"p":1.1},{"f":2239,"p":0.7},
{"f":2240,"p":2.6},{"f":2241,"p":0.9},{"f":2242,"p":0.6},{"f":2243,"p":2.2},{"f":2244,"p":0.8},{"f":2245,"p":0.5},{"f":2246,"p":1.0},{"f":2247,"p":1.8},{"f":2248,"p":0.4},{"f":2249,"p":0.7},
{"f":2250,"p":0.5},{"f":2251,"p":1.7},{"f":2252,"p":0.6},{"f":2253,"p":0.3},{"f":2254,"p":0.8},{"f":2255,"p":0.5},{"f":2256,"p":0.4},{"f":2257,"p":1.7},{"f":2258,"p":0.6},{"f":2259,"p":0.3},
{"f":2260,"p":0.7},{"f":2261,"p":0.5},{"f":2262,"p":0.4},{"f":2263,"p":0.9},{"f":2264,"p":1.8},{"f":2265,"p":0.6},{"f":2266,"p":0.8},{"f":2267,"p":0.4},{"f":2268,"p":1.7},{"f":2269,"p":0.9},
{"f":2270,"p":0.6},{"f":2271,"p":1.1},{"f":2272,"p":0.7},{"f":2273,"p":2.4},{"f":2274,"p":1.0},{"f":2275,"p":0.8},{"f":2276,"p":1.3},{"f":2277,"p":2.7},{"f":2278,"p":1.2},{"f":2279,"p":1.5},
{"f":2280,"p":2.7},{"f":2281,"p":1.0},{"f":2282,"p":1.4},{"f":2283,"p":3.3},{"f":2284,"p":0.9},{"f":2285,"p":1.6},{"f":2286,"p":0.7},{"f":2287,"p":1.1},{"f":2288,"p":0.5},{"f":2289,"p":0.8},
{"f":2290,"p":0.6},{"f":2291,"p":0.4},{"f":2292,"p":0.8},{"f":2293,"p":1.3},{"f":2294,"p":0.5},{"f":2295,"p":0.7},{"f":2296,"p":0.3},{"f":2297,"p":1.5},{"f":2298,"p":0.6},{"f":2299,"p":0.4},
{"f":2300,"p":0.8},{"f":2301,"p":0.5},{"f":2302,"p":0.9},{"f":2303,"p":0.4},{"f":2304,"p":1.6},{"f":2305,"p":0.6},{"f":2306,"p":0.3},{"f":2307,"p":0.7},{"f":2308,"p":1.0},{"f":2309,"p":0.5},
{"f":2310,"p":3.5},{"f":2311,"p":0.8},{"f":2312,"p":0.6},{"f":2313,"p":2.6},{"f":2314,"p":0.9},{"f":2315,"p":0.5},{"f":2316,"p":2.5},{"f":2317,"p":0.7},{"f":2318,"p":1.0},{"f":2319,"p":0.6},
{"f":2320,"p":2.0},{"f":2321,"p":0.8},{"f":2322,"p":1.2},{"f":2323,"p":0.6},{"f":2324,"p":2.2},{"f":2325,"p":0.9},{"f":2326,"p":0.5},{"f":2327,"p":1.1},{"f":2328,"p":0.7},{"f":2329,"p":0.4},
{"f":2330,"p":1.5},{"f":2331,"p":0.6},{"f":2332,"p":0.3},{"f":2333,"p":0.8},{"f":2334,"p":0.5},{"f":2335,"p":0.9},{"f":2336,"p":1.3},{"f":2337,"p":0.4},{"f":2338,"p":0.7},{"f":2339,"p":0.5},
{"f":2340,"p":0.8},{"f":2341,"p":0.4},{"f":2342,"p":0.6},{"f":2343,"p":1.0},{"f":2344,"p":0.5},{"f":2345,"p":0.7},{"f":2346,"p":2.7},{"f":2347,"p":2.0},{"f":2348,"p":0.6},{"f":2349,"p":1.5},
{"f":2350,"p":0.5},{"f":2351,"p":0.9},{"f":2352,"p":0.4},{"f":2353,"p":0.7},{"f":2354,"p":1.1},{"f":2355,"p":2.5},{"f":2356,"p":0.6},{"f":2357,"p":1.8},{"f":2358,"p":0.9},{"f":2359,"p":1.2},
{"f":2360,"p":1.8},{"f":2361,"p":1.0},{"f":2362,"p":1.4},{"f":2363,"p":0.8},{"f":2364,"p":3.0},{"f":2365,"p":1.2},{"f":2366,"p":1.8},{"f":2367,"p":0.9},{"f":2368,"p":2.8},{"f":2369,"p":1.1},
{"f":2370,"p":0.7},{"f":2371,"p":0.5},{"f":2372,"p":0.9},{"f":2373,"p":1.4},{"f":2374,"p":0.6},{"f":2375,"p":0.4},{"f":2376,"p":0.8},{"f":2377,"p":1.9},{"f":2378,"p":0.5},{"f":2379,"p":0.7},
{"f":2380,"p":0.3},{"f":2381,"p":0.6},{"f":2382,"p":1.8},{"f":2383,"p":0.5},{"f":2384,"p":0.8},{"f":2385,"p":0.4},{"f":2386,"p":0.9},{"f":2387,"p":0.6},{"f":2388,"p":2.1},{"f":2389,"p":0.7},
{"f":2390,"p":0.5},{"f":2391,"p":2.9},{"f":2392,"p":0.8},{"f":2393,"p":0.6},{"f":2394,"p":1.5},{"f":2395,"p":1.0},{"f":2396,"p":0.7},{"f":2397,"p":2.3},{"f":2398,"p":0.9},{"f":2399,"p":1.2},
{"f":2400,"p":0.8},{"f":2401,"p":3.4},{"f":2402,"p":1.3},{"f":2403,"p":1.1},{"f":2404,"p":3.0},{"f":2405,"p":0.9},{"f":2406,"p":1.5},{"f":2407,"p":1.2},{"f":2408,"p":0.7},{"f":2409,"p":3.0},
{"f":2410,"p":0.9},{"f":2411,"p":1.7},{"f":2412,"p":0.6},{"f":2413,"p":0.8},{"f":2414,"p":0.5},{"f":2415,"p":0.7},{"f":2416,"p":0.4},{"f":2417,"p":1.6},{"f":2418,"p":0.6},{"f":2419,"p":0.3},
{"f":2420,"p":0.7},{"f":2421,"p":1.2},{"f":2422,"p":0.5},{"f":2423,"p":0.8},{"f":2424,"p":0.4},{"f":2425,"p":0.6},{"f":2426,"p":0.9},{"f":2427,"p":0.3},{"f":2428,"p":0.7},{"f":2429,"p":1.5},
{"f":2430,"p":0.5},{"f":2431,"p":0.8},{"f":2432,"p":2.1},{"f":2433,"p":0.6},{"f":2434,"p":0.4},{"f":2435,"p":1.2},{"f":2436,"p":0.7},{"f":2437,"p":0.5},{"f":2438,"p":1.0},{"f":2439,"p":0.6},{"f":2440,"p":0.4},
{"f":1210.5,"p":0.2},{"f":1211.5,"p":0.6},{"f":1212.5,"p":0.3},{"f":1213.5,"p":0.15},{"f":1214.5,"p":0.4},{"f":1215.5,"p":0.1},{"f":1216.5,"p":0.25},{"f":1217.5,"p":0.15},{"f":1218.5,"p":0.3},{"f":1219.5,"p":0.2},
{"f":1220.5,"p":0.1},{"f":1221.5,"p":0.25},{"f":1222.5,"p":0.4},{"f":1223.5,"p":0.15},{"f":1224.5,"p":0.3},{"f":1225.5,"p":0.2},{"f":1226.5,"p":0.5},{"f":1227.5,"p":0.1},{"f":1228.5,"p":0.25},{"f":1229.5,"p":0.35},
{"f":1230.5,"p":0.2},{"f":1231.5,"p":0.5},{"f":1232.5,"p":0.15},{"f":1233.5,"p":0.3},{"f":1234.5,"p":0.25},{"f":1235.5,"p":0.45},{"f":1236.5,"p":0.1},{"f":1237.5,"p":0.35},{"f":1238.5,"p":0.6},{"f":1239.5,"p":0.3},
{"f":1240.5,"p":0.5},{"f":1241.5,"p":0.8},{"f":1242.5,"p":0.4},{"f":1243.5,"p":0.9},{"f":1244.5,"p":0.6},{"f":1245.5,"p":1.1},{"f":1246.5,"p":0.7},{"f":1247.5,"p":0.5},{"f":1248.5,"p":0.3},{"f":1249.5,"p":0.4},
{"f":1250.5,"p":0.2},{"f":1251.5,"p":0.35},{"f":1252.5,"p":0.15},{"f":1253.5,"p":0.4},{"f":1254.5,"p":0.25},{"f":1255.5,"p":0.6},{"f":1256.5,"p":0.3},{"f":1257.5,"p":0.15},{"f":1258.5,"p":0.2},{"f":1259.5,"p":0.45},
{"f":1260.5,"p":0.3},{"f":1261.5,"p":0.15},{"f":1262.5,"p":0.5},{"f":1263.5,"p":0.2},{"f":1264.5,"p":0.1},{"f":1265.5,"p":0.4},{"f":1266.5,"p":0.25},{"f":1267.5,"p":0.6},{"f":1268.5,"p":0.15},{"f":1269.5,"p":0.3},
{"f":1270.5,"p":0.2},{"f":1271.5,"p":0.1},{"f":1272.5,"p":0.35},{"f":1273.5,"p":0.25},{"f":1274.5,"p":0.5},{"f":1275.5,"p":0.15},{"f":1276.5,"p":0.3},{"f":1277.5,"p":0.2},{"f":1278.5,"p":0.4},{"f":1279.5,"p":0.1},
{"f":1280.5,"p":0.3},{"f":1281.5,"p":0.5},{"f":1282.5,"p":0.25},{"f":1283.5,"p":0.6},{"f":1284.5,"p":0.8},{"f":1285.5,"p":0.5},{"f":1286.5,"p":1.0},{"f":1287.5,"p":0.7},{"f":1288.5,"p":0.9},{"f":1289.5,"p":0.6},
{"f":1290.5,"p":1.2},{"f":1291.5,"p":0.7},{"f":1292.5,"p":0.5},{"f":1293.5,"p":0.9},{"f":1294.5,"p":0.4},{"f":1295.5,"p":0.6},{"f":1296.5,"p":0.3},{"f":1297.5,"p":0.5},{"f":1298.5,"p":0.2},{"f":1299.5,"p":0.35},
{"f":1300.5,"p":0.4},{"f":1301.5,"p":0.15},{"f":1302.5,"p":0.3},{"f":1303.5,"p":0.5},{"f":1304.5,"p":0.2},{"f":1305.5,"p":0.1},{"f":1306.5,"p":0.35},{"f":1307.5,"p":0.25},{"f":1308.5,"p":0.15},{"f":1309.5,"p":0.3},
{"f":1310.5,"p":0.2},{"f":1311.5,"p":0.4},{"f":1312.5,"p":0.1},{"f":1313.5,"p":0.25},{"f":1314.5,"p":0.15},{"f":1315.5,"p":0.3},{"f":1316.5,"p":0.2},{"f":1317.5,"p":0.45},{"f":1318.5,"p":0.1},{"f":1319.5,"p":0.25},
{"f":1320.5,"p":0.3},{"f":1321.5,"p":0.15},{"f":1322.5,"p":0.4},{"f":1323.5,"p":0.2},{"f":1324.5,"p":0.5},{"f":1325.5,"p":0.3},{"f":1326.5,"p":0.7},{"f":1327.5,"p":0.4},{"f":1328.5,"p":0.6},{"f":1329.5,"p":0.5},
{"f":1330.5,"p":0.8},{"f":1331.5,"p":0.4},{"f":1332.5,"p":0.6},{"f":1333.5,"p":0.3},{"f":1334.5,"p":0.5},{"f":1335.5,"p":0.25},{"f":1336.5,"p":0.4},{"f":1337.5,"p":0.2},{"f":1338.5,"p":0.35},{"f":1339.5,"p":0.15},
{"f":1340.5,"p":0.25},{"f":1341.5,"p":0.4},{"f":1342.5,"p":0.1},{"f":1343.5,"p":0.3},{"f":1344.5,"p":0.2},{"f":1345.5,"p":0.5},{"f":1346.5,"p":0.15},{"f":1347.5,"p":0.3},{"f":1348.5,"p":0.2},{"f":1349.5,"p":0.1},
{"f":1350.5,"p":0.3},{"f":1351.5,"p":0.2},{"f":1352.5,"p":0.45},{"f":1353.5,"p":0.15},{"f":1354.5,"p":0.35},{"f":1355.5,"p":0.25},{"f":1356.5,"p":0.1},{"f":1357.5,"p":0.4},{"f":1358.5,"p":0.2},{"f":1359.5,"p":0.3},
{"f":1360.5,"p":0.15},{"f":1361.5,"p":0.4},{"f":1362.5,"p":0.25},{"f":1363.5,"p":0.3},{"f":1364.5,"p":0.5},{"f":1365.5,"p":0.35},{"f":1366.5,"p":0.6},{"f":1367.5,"p":0.4},{"f":1368.5,"p":0.7},{"f":1369.5,"p":0.5},
{"f":1370.5,"p":0.6},{"f":1371.5,"p":0.8},{"f":1372.5,"p":0.5},{"f":1373.5,"p":0.7},{"f":1374.5,"p":0.4},{"f":1375.5,"p":0.6},{"f":1376.5,"p":0.3},{"f":1377.5,"p":0.45},{"f":1378.5,"p":0.2},{"f":1379.5,"p":0.3},
{"f":1380.5,"p":0.15},{"f":1381.5,"p":0.3},{"f":1382.5,"p":0.2},{"f":1383.5,"p":0.4},{"f":1384.5,"p":0.1},{"f":1385.5,"p":0.25},{"f":1386.5,"p":0.35},{"f":1387.5,"p":0.15},{"f":1388.5,"p":0.3},{"f":1389.5,"p":0.2},
{"f":1390.5,"p":0.4},{"f":1391.5,"p":0.1},{"f":1392.5,"p":0.25},{"f":1393.5,"p":0.3},{"f":1394.5,"p":0.15},{"f":1395.5,"p":0.45},{"f":1396.5,"p":0.2},{"f":1397.5,"p":0.35},{"f":1398.5,"p":0.1},{"f":1399.5,"p":0.3},
{"f":1400.5,"p":0.2},{"f":1401.5,"p":0.4},{"f":1402.5,"p":0.25},{"f":1403.5,"p":0.5},{"f":1404.5,"p":0.3},{"f":1405.5,"p":0.6},{"f":1406.5,"p":0.4},{"f":1407.5,"p":0.7},{"f":1408.5,"p":0.5},{"f":1409.5,"p":0.8},
{"f":1410.5,"p":0.6},{"f":1411.5,"p":1.0},{"f":1412.5,"p":0.7},{"f":1413.5,"p":1.2},{"f":1414.5,"p":0.8},{"f":1415.5,"p":0.9},{"f":1416.5,"p":0.6},{"f":1417.5,"p":0.7},{"f":1418.5,"p":0.5},{"f":1419.5,"p":0.4},
{"f":1420.5,"p":0.3},{"f":1421.5,"p":0.5},{"f":1422.5,"p":0.2},{"f":1423.5,"p":0.35},{"f":1424.5,"p":0.15},{"f":1425.5,"p":0.4},{"f":1426.5,"p":0.25},{"f":1427.5,"p":0.1},{"f":1428.5,"p":0.3},{"f":1429.5,"p":0.2},
{"f":1430.5,"p":0.15},{"f":1431.5,"p":0.35},{"f":1432.5,"p":0.2},{"f":1433.5,"p":0.1},{"f":1434.5,"p":0.4},{"f":1435.5,"p":0.25},{"f":1436.5,"p":0.3},{"f":1437.5,"p":0.15},{"f":1438.5,"p":0.45},{"f":1439.5,"p":0.2},
{"f":1440.5,"p":0.3},{"f":1441.5,"p":0.1},{"f":1442.5,"p":0.4},{"f":1443.5,"p":0.2},{"f":1444.5,"p":0.5},{"f":1445.5,"p":0.3},{"f":1446.5,"p":0.6},{"f":1447.5,"p":0.35},{"f":1448.5,"p":0.5},{"f":1449.5,"p":0.7},
{"f":1450.5,"p":0.6},{"f":1451.5,"p":0.9},{"f":1452.5,"p":0.8},{"f":1453.5,"p":1.1},{"f":1454.5,"p":0.7},{"f":1455.5,"p":1.3},{"f":1456.5,"p":0.9},{"f":1457.5,"p":1.0},{"f":1458.5,"p":0.8},{"f":1459.5,"p":1.2},
{"f":1460.5,"p":0.7},{"f":1461.5,"p":0.9},{"f":1462.5,"p":0.6},{"f":1463.5,"p":0.5},{"f":1464.5,"p":0.8},{"f":1465.5,"p":0.4},{"f":1466.5,"p":0.6},{"f":1467.5,"p":0.3},{"f":1468.5,"p":0.5},{"f":1469.5,"p":0.25},
{"f":1470.5,"p":0.35},{"f":1471.5,"p":0.15},{"f":1472.5,"p":0.3},{"f":1473.5,"p":0.2},{"f":1474.5,"p":0.4},{"f":1475.5,"p":0.1},{"f":1476.5,"p":0.25},{"f":1477.5,"p":0.35},{"f":1478.5,"p":0.2},{"f":1479.5,"p":0.3},
{"f":1480.5,"p":0.15},{"f":1481.5,"p":0.4},{"f":1482.5,"p":0.25},{"f":1483.5,"p":0.3},{"f":1484.5,"p":0.5},{"f":1485.5,"p":0.2},{"f":1486.5,"p":0.35},{"f":1487.5,"p":0.6},{"f":1488.5,"p":0.3},{"f":1489.5,"p":0.4},
{"f":1490.5,"p":0.5},{"f":1491.5,"p":0.3},{"f":1492.5,"p":0.7},{"f":1493.5,"p":0.5},{"f":1494.5,"p":0.8},{"f":1495.5,"p":0.6},{"f":1496.5,"p":0.9},{"f":1497.5,"p":1.1},{"f":1498.5,"p":0.7},{"f":1499.5,"p":1.3},
{"f":1500.5,"p":0.9},{"f":1501.5,"p":1.2},{"f":1502.5,"p":0.8},{"f":1503.5,"p":1.0},{"f":1504.5,"p":0.6},{"f":1505.5,"p":0.9},{"f":1506.5,"p":0.5},{"f":1507.5,"p":0.7},{"f":1508.5,"p":0.4},{"f":1509.5,"p":0.5},
{"f":1510.5,"p":0.3},{"f":1511.5,"p":0.2},{"f":1512.5,"p":0.45},{"f":1513.5,"p":0.15},{"f":1514.5,"p":0.35},{"f":1515.5,"p":0.25},{"f":1516.5,"p":0.5},{"f":1517.5,"p":0.2},{"f":1518.5,"p":0.3},{"f":1519.5,"p":0.4},
{"f":1520.5,"p":0.15},{"f":1521.5,"p":0.3},{"f":1522.5,"p":0.2},{"f":1523.5,"p":0.5},{"f":1524.5,"p":0.25},{"f":1525.5,"p":0.35},{"f":1526.5,"p":0.1},{"f":1527.5,"p":0.4},{"f":1528.5,"p":0.3},{"f":1529.5,"p":0.2},
{"f":1530.5,"p":0.5},{"f":1531.5,"p":0.35},{"f":1532.5,"p":0.6},{"f":1533.5,"p":0.3},{"f":1534.5,"p":0.45},{"f":1535.5,"p":0.7},{"f":1536.5,"p":0.4},{"f":1537.5,"p":0.55},{"f":1538.5,"p":0.8},{"f":1539.5,"p":0.5},
{"f":1540.5,"p":0.7},{"f":1541.5,"p":0.5},{"f":1542.5,"p":0.9},{"f":1543.5,"p":0.6},{"f":1544.5,"p":1.1},{"f":1545.5,"p":0.8},{"f":1546.5,"p":1.0},{"f":1547.5,"p":0.7},{"f":1548.5,"p":1.2},{"f":1549.5,"p":0.6},
{"f":1550.5,"p":0.8},{"f":1551.5,"p":0.5},{"f":1552.5,"p":0.6},{"f":1553.5,"p":0.4},{"f":1554.5,"p":0.7},{"f":1555.5,"p":0.3},{"f":1556.5,"p":0.5},{"f":1557.5,"p":0.25},{"f":1558.5,"p":0.4},{"f":1559.5,"p":0.3},
{"f":1560.5,"p":0.2},{"f":1561.5,"p":0.45},{"f":1562.5,"p":0.15},{"f":1563.5,"p":0.3},{"f":1564.5,"p":0.25},{"f":1565.5,"p":0.4},{"f":1566.5,"p":0.1},{"f":1567.5,"p":0.35},{"f":1568.5,"p":0.2},{"f":1569.5,"p":0.3},
{"f":1570.5,"p":0.4},{"f":1571.5,"p":0.25},{"f":1572.5,"p":0.5},{"f":1573.5,"p":0.3},{"f":1574.5,"p":0.2},{"f":1575.5,"p":0.45},{"f":1576.5,"p":0.35},{"f":1577.5,"p":0.6},{"f":1578.5,"p":0.4},{"f":1579.5,"p":0.5},
{"f":1580.5,"p":0.7},{"f":1581.5,"p":0.5},{"f":1582.5,"p":0.9},{"f":1583.5,"p":0.6},{"f":1584.5,"p":1.2},{"f":1585.5,"p":0.8},{"f":1586.5,"p":1.4},{"f":1587.5,"p":1.0},{"f":1588.5,"p":1.3},{"f":1589.5,"p":0.9},
{"f":1590.5,"p":1.1},{"f":1591.5,"p":0.7},{"f":1592.5,"p":0.9},{"f":1593.5,"p":0.5},{"f":1594.5,"p":0.7},{"f":1595.5,"p":0.4},{"f":1596.5,"p":0.6},{"f":1597.5,"p":0.35},{"f":1598.5,"p":0.5},{"f":1599.5,"p":0.3},
{"f":1600.5,"p":0.25},{"f":1601.5,"p":0.4},{"f":1602.5,"p":0.2},{"f":1603.5,"p":0.35},{"f":1604.5,"p":0.15},{"f":1605.5,"p":0.45},{"f":1606.5,"p":0.3},{"f":1607.5,"p":0.2},{"f":1608.5,"p":0.4},{"f":1609.5,"p":0.25},
{"f":1610.5,"p":0.35},{"f":1611.5,"p":0.5},{"f":1612.5,"p":0.3},{"f":1613.5,"p":0.45},{"f":1614.5,"p":0.6},{"f":1615.5,"p":0.4},{"f":1616.5,"p":0.7},{"f":1617.5,"p":0.5},{"f":1618.5,"p":0.8},{"f":1619.5,"p":0.6},
{"f":1620.5,"p":0.9},{"f":1621.5,"p":0.6},{"f":1622.5,"p":1.1},{"f":1623.5,"p":0.7},{"f":1624.5,"p":1.3},{"f":1625.5,"p":0.9},{"f":1626.5,"p":1.5},{"f":1627.5,"p":1.1},{"f":1628.5,"p":1.8},{"f":1629.5,"p":1.2},
{"f":1630.5,"p":1.6},{"f":1631.5,"p":1.3},{"f":1632.5,"p":1.9},{"f":1633.5,"p":1.0},{"f":1634.5,"p":1.4},{"f":1635.5,"p":0.8},{"f":1636.5,"p":1.0},{"f":1637.5,"p":0.6},{"f":1638.5,"p":0.7},{"f":1639.5,"p":0.5},
{"f":1640.5,"p":0.6},{"f":1641.5,"p":0.4},{"f":1642.5,"p":0.5},{"f":1643.5,"p":0.3},{"f":1644.5,"p":0.45},{"f":1645.5,"p":0.2},{"f":1646.5,"p":0.35},{"f":1647.5,"p":0.25},{"f":1648.5,"p":0.4},{"f":1649.5,"p":0.15},
{"f":1650.5,"p":0.3},{"f":1651.5,"p":0.2},{"f":1652.5,"p":0.45},{"f":1653.5,"p":0.25},{"f":1654.5,"p":0.35},{"f":1655.5,"p":0.15},{"f":1656.5,"p":0.4},{"f":1657.5,"p":0.3},{"f":1658.5,"p":0.5},{"f":1659.5,"p":0.35},
{"f":1660.5,"p":0.45},{"f":1661.5,"p":0.6},{"f":1662.5,"p":0.4},{"f":1663.5,"p":0.7},{"f":1664.5,"p":0.5},{"f":1665.5,"p":0.9},{"f":1666.5,"p":0.6},{"f":1667.5,"p":1.1},{"f":1668.5,"p":0.8},{"f":1669.5,"p":1.3},
{"f":1670.5,"p":1.0},{"f":1671.5,"p":1.4},{"f":1672.5,"p":1.2},{"f":1673.5,"p":0.9},{"f":1674.5,"p":1.1},{"f":1675.5,"p":0.7},{"f":1676.5,"p":0.8},{"f":1677.5,"p":0.5},{"f":1678.5,"p":0.6},{"f":1679.5,"p":0.4},
{"f":1680.5,"p":0.3},{"f":1681.5,"p":0.45},{"f":1682.5,"p":0.2},{"f":1683.5,"p":0.35},{"f":1684.5,"p":0.25},{"f":1685.5,"p":0.4},{"f":1686.5,"p":0.15},{"f":1687.5,"p":0.3},{"f":1688.5,"p":0.2},{"f":1689.5,"p":0.35},
{"f":1690.5,"p":0.25},{"f":1691.5,"p":0.4},{"f":1692.5,"p":0.3},{"f":1693.5,"p":0.5},{"f":1694.5,"p":0.2},{"f":1695.5,"p":0.35},{"f":1696.5,"p":0.45},{"f":1697.5,"p":0.3},{"f":1698.5,"p":0.5},{"f":1699.5,"p":0.4},
{"f":1700.5,"p":0.6},{"f":1701.5,"p":0.4},{"f":1702.5,"p":0.7},{"f":1703.5,"p":0.5},{"f":1704.5,"p":0.8},{"f":1705.5,"p":0.6},{"f":1706.5,"p":0.9},{"f":1707.5,"p":0.7},{"f":1708.5,"p":1.1},{"f":1709.5,"p":0.8},
{"f":1710.5,"p":1.2},{"f":1711.5,"p":0.9},{"f":1712.5,"p":1.5},{"f":1713.5,"p":1.1},{"f":1714.5,"p":1.7},{"f":1715.5,"p":1.3},{"f":1716.5,"p":1.6},{"f":1717.5,"p":1.0},{"f":1718.5,"p":1.2},{"f":1719.5,"p":0.8},
{"f":1720.5,"p":0.9},{"f":1721.5,"p":0.6},{"f":1722.5,"p":0.8},{"f":1723.5,"p":0.5},{"f":1724.5,"p":0.6},{"f":1725.5,"p":0.4},{"f":1726.5,"p":0.55},{"f":1727.5,"p":0.35},{"f":1728.5,"p":0.45},{"f":1729.5,"p":0.3},
{"f":1730.5,"p":0.4},{"f":1731.5,"p":0.25},{"f":1732.5,"p":0.5},{"f":1733.5,"p":0.3},{"f":1734.5,"p":0.45},{"f":1735.5,"p":0.2},{"f":1736.5,"p":0.6},{"f":1737.5,"p":0.35},{"f":1738.5,"p":0.5},{"f":1739.5,"p":0.7},
{"f":1740.5,"p":0.6},{"f":1741.5,"p":0.8},{"f":1742.5,"p":0.5},{"f":1743.5,"p":0.9},{"f":1744.5,"p":0.7},{"f":1745.5,"p":1.1},{"f":1746.5,"p":0.8},{"f":1747.5,"p":1.3},{"f":1748.5,"p":1.0},{"f":1749.5,"p":1.5},
{"f":1750.5,"p":1.2},{"f":1751.5,"p":1.7},{"f":1752.5,"p":1.4},{"f":1753.5,"p":2.0},{"f":1754.5,"p":1.6},{"f":1755.5,"p":2.2},{"f":1756.5,"p":1.8},{"f":1757.5,"p":2.5},{"f":1758.5,"p":1.9},{"f":1759.5,"p":2.1},
{"f":1760.5,"p":1.7},{"f":1761.5,"p":2.0},{"f":1762.5,"p":1.4},{"f":1763.5,"p":1.6},{"f":1764.5,"p":1.1},{"f":1765.5,"p":1.3},{"f":1766.5,"p":0.9},{"f":1767.5,"p":1.0},{"f":1768.5,"p":0.7},{"f":1769.5,"p":0.8},
{"f":1770.5,"p":0.6},{"f":1771.5,"p":0.7},{"f":1772.5,"p":0.5},{"f":1773.5,"p":0.6},{"f":1774.5,"p":0.4},{"f":1775.5,"p":0.55},{"f":1776.5,"p":0.35},{"f":1777.5,"p":0.6},{"f":1778.5,"p":0.45},{"f":1779.5,"p":0.7},
{"f":1780.5,"p":0.5},{"f":1781.5,"p":0.8},{"f":1782.5,"p":0.6},{"f":1783.5,"p":0.9},{"f":1784.5,"p":0.7},{"f":1785.5,"p":1.0},{"f":1786.5,"p":0.8},{"f":1787.5,"p":1.2},{"f":1788.5,"p":0.9},{"f":1789.5,"p":1.3},
{"f":1790.5,"p":1.1},{"f":1791.5,"p":1.5},{"f":1792.5,"p":1.3},{"f":1793.5,"p":1.8},{"f":1794.5,"p":1.4},{"f":1795.5,"p":2.0},{"f":1796.5,"p":1.6},{"f":1797.5,"p":2.2},{"f":1798.5,"p":1.8},{"f":1799.5,"p":1.9},
{"f":1800.5,"p":2.1},{"f":1801.5,"p":1.7},{"f":1802.5,"p":1.9},{"f":1803.5,"p":1.4},{"f":1804.5,"p":1.6},{"f":1805.5,"p":1.1},{"f":1806.5,"p":1.2},{"f":1807.5,"p":0.9},{"f":1808.5,"p":1.0},{"f":1809.5,"p":0.7},
{"f":1810.5,"p":0.8},{"f":1811.5,"p":0.6},{"f":1812.5,"p":0.7},{"f":1813.5,"p":0.5},{"f":1814.5,"p":0.6},{"f":1815.5,"p":0.4},{"f":1816.5,"p":0.5},{"f":1817.5,"p":0.3},{"f":1818.5,"p":0.45},{"f":1819.5,"p":0.35},
{"f":1820.5,"p":0.5},{"f":1821.5,"p":0.3},{"f":1822.5,"p":0.45},{"f":1823.5,"p":0.6},{"f":1824.5,"p":0.35},{"f":1825.5,"p":0.5},{"f":1826.5,"p":0.4},{"f":1827.5,"p":0.55},{"f":1828.5,"p":0.3},{"f":1829.5,"p":0.6},
{"f":1830.5,"p":0.5},{"f":1831.5,"p":0.7},{"f":1832.5,"p":0.6},{"f":1833.5,"p":0.8},{"f":1834.5,"p":0.7},{"f":1835.5,"p":1.0},{"f":1836.5,"p":0.8},{"f":1837.5,"p":1.1},{"f":1838.5,"p":0.9},{"f":1839.5,"p":1.3},
{"f":1840.5,"p":1.2},{"f":1841.5,"p":1.5},{"f":1842.5,"p":1.3},{"f":1843.5,"p":1.6},{"f":1844.5,"p":1.2},{"f":1845.5,"p":1.4},{"f":1846.5,"p":1.0},{"f":1847.5,"p":1.1},{"f":1848.5,"p":0.8},{"f":1849.5,"p":0.9},
{"f":1850.5,"p":0.7},{"f":1851.5,"p":0.6},{"f":1852.5,"p":0.5},{"f":1853.5,"p":0.7},{"f":1854.5,"p":0.4},{"f":1855.5,"p":0.5},{"f":1856.5,"p":0.3},{"f":1857.5,"p":0.45},{"f":1858.5,"p":0.25},{"f":1859.5,"p":0.4},
{"f":1860.5,"p":0.3},{"f":1861.5,"p":0.5},{"f":1862.5,"p":0.2},{"f":1863.5,"p":0.35},{"f":1864.5,"p":0.45},{"f":1865.5,"p":0.25},{"f":1866.5,"p":0.4},{"f":1867.5,"p":0.3},{"f":1868.5,"p":0.5},{"f":1869.5,"p":0.35},
{"f":1870.5,"p":0.4},{"f":1871.5,"p":0.55},{"f":1872.5,"p":0.45},{"f":1873.5,"p":0.6},{"f":1874.5,"p":0.5},{"f":1875.5,"p":0.7},{"f":1876.5,"p":0.6},{"f":1877.5,"p":0.8},{"f":1878.5,"p":0.7},{"f":1879.5,"p":1.0},
{"f":1880.5,"p":0.9},{"f":1881.5,"p":1.2},{"f":1882.5,"p":1.0},{"f":1883.5,"p":1.4},{"f":1884.5,"p":1.3},{"f":1885.5,"p":1.7},{"f":1886.5,"p":1.4},{"f":1887.5,"p":1.5},{"f":1888.5,"p":1.2},{"f":1889.5,"p":1.3},
{"f":1890.5,"p":1.0},{"f":1891.5,"p":1.1},{"f":1892.5,"p":0.8},{"f":1893.5,"p":0.9},{"f":1894.5,"p":0.7},{"f":1895.5,"p":0.75},{"f":1896.5,"p":0.5},{"f":1897.5,"p":0.6},{"f":1898.5,"p":0.45},{"f":1899.5,"p":0.5},
{"f":1900.5,"p":0.35},{"f":1901.5,"p":0.45},{"f":1902.5,"p":0.3},{"f":1903.5,"p":0.4},{"f":1904.5,"p":0.2},{"f":1905.5,"p":0.5},{"f":1906.5,"p":0.3},{"f":1907.5,"p":0.25},{"f":1908.5,"p":0.4},{"f":1909.5,"p":0.35},
{"f":1910.5,"p":0.3},{"f":1911.5,"p":0.45},{"f":1912.5,"p":0.25},{"f":1913.5,"p":0.5},{"f":1914.5,"p":0.35},{"f":1915.5,"p":0.55},{"f":1916.5,"p":0.4},{"f":1917.5,"p":0.6},{"f":1918.5,"p":0.5},{"f":1919.5,"p":0.7},
{"f":1920.5,"p":0.6},{"f":1921.5,"p":0.8},{"f":1922.5,"p":0.7},{"f":1923.5,"p":1.0},{"f":1924.5,"p":0.8},{"f":1925.5,"p":1.1},{"f":1926.5,"p":0.9},{"f":1927.5,"p":1.3},{"f":1928.5,"p":1.0},{"f":1929.5,"p":1.2},
{"f":1930.5,"p":1.1},{"f":1931.5,"p":0.9},{"f":1932.5,"p":1.0},{"f":1933.5,"p":0.8},{"f":1934.5,"p":0.85},{"f":1935.5,"p":0.6},{"f":1936.5,"p":0.7},{"f":1937.5,"p":0.5},{"f":1938.5,"p":0.6},{"f":1939.5,"p":0.45},
{"f":1940.5,"p":0.5},{"f":1941.5,"p":0.4},{"f":1942.5,"p":0.6},{"f":1943.5,"p":0.35},{"f":1944.5,"p":0.45},{"f":1945.5,"p":0.3},{"f":1946.5,"p":0.4},{"f":1947.5,"p":0.25},{"f":1948.5,"p":0.5},{"f":1949.5,"p":0.35},
{"f":1950.5,"p":0.3},{"f":1951.5,"p":0.4},{"f":1952.5,"p":0.2},{"f":1953.5,"p":0.45},{"f":1954.5,"p":0.35},{"f":1955.5,"p":0.3},{"f":1956.5,"p":0.5},{"f":1957.5,"p":0.25},{"f":1958.5,"p":0.4},{"f":1959.5,"p":0.45},
{"f":1960.5,"p":0.5},{"f":1961.5,"p":0.6},{"f":1962.5,"p":0.45},{"f":1963.5,"p":0.7},{"f":1964.5,"p":0.6},{"f":1965.5,"p":0.8},{"f":1966.5,"p":0.7},{"f":1967.5,"p":0.9},{"f":1968.5,"p":0.8},{"f":1969.5,"p":1.1},
{"f":1970.5,"p":1.0},{"f":1971.5,"p":1.3},{"f":1972.5,"p":1.1},{"f":1973.5,"p":1.2},{"f":1974.5,"p":0.9},{"f":1975.5,"p":1.0},{"f":1976.5,"p":0.8},{"f":1977.5,"p":0.9},{"f":1978.5,"p":0.6},{"f":1979.5,"p":0.7},
{"f":1980.5,"p":0.5},{"f":1981.5,"p":0.6},{"f":1982.5,"p":0.4},{"f":1983.5,"p":0.5},{"f":1984.5,"p":0.35},{"f":1985.5,"p":0.45},{"f":1986.5,"p":0.3},{"f":1987.5,"p":0.4},{"f":1988.5,"p":0.25},{"f":1989.5,"p":0.35},
{"f":1990.5,"p":0.3},{"f":1991.5,"p":0.2},{"f":1992.5,"p":0.4},{"f":1993.5,"p":0.3},{"f":1994.5,"p":0.45},{"f":1995.5,"p":0.25},{"f":1996.5,"p":0.35},{"f":1997.5,"p":0.2},{"f":1998.5,"p":0.4},{"f":1999.5,"p":0.3},
{"f":2000.5,"p":0.45},{"f":2001.5,"p":0.35},{"f":2002.5,"p":0.5},{"f":2003.5,"p":0.4},{"f":2004.5,"p":0.6},{"f":2005.5,"p":0.5},{"f":2006.5,"p":0.7},{"f":2007.5,"p":0.6},{"f":2008.5,"p":0.8},{"f":2009.5,"p":0.9},
{"f":2010.5,"p":1.0},{"f":2011.5,"p":1.2},{"f":2012.5,"p":1.1},{"f":2013.5,"p":1.3},{"f":2014.5,"p":1.0},{"f":2015.5,"p":1.2},{"f":2016.5,"p":0.9},{"f":2017.5,"p":1.0},{"f":2018.5,"p":0.7},{"f":2019.5,"p":0.8},
{"f":2020.5,"p":0.6},{"f":2021.5,"p":0.7},{"f":2022.5,"p":0.5},{"f":2023.5,"p":0.6},{"f":2024.5,"p":0.4},{"f":2025.5,"p":0.5},{"f":2026.5,"p":0.35},{"f":2027.5,"p":0.45},{"f":2028.5,"p":0.3},{"f":2029.5,"p":0.4},
{"f":2030.5,"p":0.25},{"f":2031.5,"p":0.35},{"f":2032.5,"p":0.2},{"f":2033.5,"p":0.4},{"f":2034.5,"p":0.3},{"f":2035.5,"p":0.25},{"f":2036.5,"p":0.45},{"f":2037.5,"p":0.3},{"f":2038.5,"p":0.4},{"f":2039.5,"p":0.35},
{"f":2040.5,"p":0.45},{"f":2041.5,"p":0.3},{"f":2042.5,"p":0.5},{"f":2043.5,"p":0.4},{"f":2044.5,"p":0.6},{"f":2045.5,"p":0.45},{"f":2046.5,"p":0.7},{"f":2047.5,"p":0.55},{"f":2048.5,"p":0.8},{"f":2049.5,"p":0.6},
{"f":2050.5,"p":0.9},{"f":2051.5,"p":0.7},{"f":2052.5,"p":1.0},{"f":2053.5,"p":0.8},{"f":2054.5,"p":1.2},{"f":2055.5,"p":0.9},{"f":2056.5,"p":1.3},{"f":2057.5,"p":1.1},{"f":2058.5,"p":1.4},{"f":2059.5,"p":1.2},
{"f":2060.5,"p":1.3},{"f":2061.5,"p":1.0},{"f":2062.5,"p":1.1},{"f":2063.5,"p":0.8},{"f":2064.5,"p":0.9},{"f":2065.5,"p":0.7},{"f":2066.5,"p":0.75},{"f":2067.5,"p":0.55},{"f":2068.5,"p":0.6},{"f":2069.5,"p":0.45},
{"f":2070.5,"p":0.5},{"f":2071.5,"p":0.4},{"f":2072.5,"p":0.35},{"f":2073.5,"p":0.45},{"f":2074.5,"p":0.3},{"f":2075.5,"p":0.4},{"f":2076.5,"p":0.25},{"f":2077.5,"p":0.35},{"f":2078.5,"p":0.2},{"f":2079.5,"p":0.3},
{"f":2080.5,"p":0.35},{"f":2081.5,"p":0.25},{"f":2082.5,"p":0.4},{"f":2083.5,"p":0.3},{"f":2084.5,"p":0.45},{"f":2085.5,"p":0.2},{"f":2086.5,"p":0.35},{"f":2087.5,"p":0.3},{"f":2088.5,"p":0.5},{"f":2089.5,"p":0.4},
{"f":2090.5,"p":0.45},{"f":2091.5,"p":0.55},{"f":2092.5,"p":0.4},{"f":2093.5,"p":0.6},{"f":2094.5,"p":0.5},{"f":2095.5,"p":0.7},{"f":2096.5,"p":0.6},{"f":2097.5,"p":0.8},{"f":2098.5,"p":0.7},{"f":2099.5,"p":1.0},
{"f":2100.5,"p":1.1},{"f":2101.5,"p":0.9},{"f":2102.5,"p":1.2},{"f":2103.5,"p":0.8},{"f":2104.5,"p":1.0},{"f":2105.5,"p":0.7},{"f":2106.5,"p":0.8},{"f":2107.5,"p":0.6},{"f":2108.5,"p":0.65},{"f":2109.5,"p":0.5},
{"f":2110.5,"p":0.55},{"f":2111.5,"p":0.4},{"f":2112.5,"p":0.45},{"f":2113.5,"p":0.3},{"f":2114.5,"p":0.4},{"f":2115.5,"p":0.25},{"f":2116.5,"p":0.35},{"f":2117.5,"p":0.3},{"f":2118.5,"p":0.2},{"f":2119.5,"p":0.4},
{"f":2120.5,"p":0.3},{"f":2121.5,"p":0.25},{"f":2122.5,"p":0.35},{"f":2123.5,"p":0.2},{"f":2124.5,"p":0.4},{"f":2125.5,"p":0.3},{"f":2126.5,"p":0.15},{"f":2127.5,"p":0.35},{"f":2128.5,"p":0.25},{"f":2129.5,"p":0.3},
{"f":2130.5,"p":0.4},{"f":2131.5,"p":0.3},{"f":2132.5,"p":0.5},{"f":2133.5,"p":0.35},{"f":2134.5,"p":0.45},{"f":2135.5,"p":0.4},{"f":2136.5,"p":0.55},{"f":2137.5,"p":0.5},{"f":2138.5,"p":0.6},{"f":2139.5,"p":0.7},
{"f":2140.5,"p":0.6},{"f":2141.5,"p":0.8},{"f":2142.5,"p":0.7},{"f":2143.5,"p":0.9},{"f":2144.5,"p":0.8},{"f":2145.5,"p":1.0},{"f":2146.5,"p":0.9},{"f":2147.5,"p":1.1},{"f":2148.5,"p":1.0},{"f":2149.5,"p":0.9},
{"f":2150.5,"p":0.8},{"f":2151.5,"p":0.7},{"f":2152.5,"p":0.75},{"f":2153.5,"p":0.6},{"f":2154.5,"p":0.5},{"f":2155.5,"p":0.55},{"f":2156.5,"p":0.4},{"f":2157.5,"p":0.45},{"f":2158.5,"p":0.3},{"f":2159.5,"p":0.35},
{"f":2160.5,"p":0.25},{"f":2161.5,"p":0.4},{"f":2162.5,"p":0.2},{"f":2163.5,"p":0.3},{"f":2164.5,"p":0.35},{"f":2165.5,"p":0.15},{"f":2166.5,"p":0.3},{"f":2167.5,"p":0.25},{"f":2168.5,"p":0.4},{"f":2169.5,"p":0.2},
{"f":2170.5,"p":0.3},{"f":2171.5,"p":0.15},{"f":2172.5,"p":0.35},{"f":2173.5,"p":0.25},{"f":2174.5,"p":0.4},{"f":2175.5,"p":0.2},{"f":2176.5,"p":0.3},{"f":2177.5,"p":0.45},{"f":2178.5,"p":0.25},{"f":2179.5,"p":0.35},
{"f":2180.5,"p":0.4},{"f":2181.5,"p":0.5},{"f":2182.5,"p":0.45},{"f":2183.5,"p":0.6},{"f":2184.5,"p":0.55},{"f":2185.5,"p":0.7},{"f":2186.5,"p":0.6},{"f":2187.5,"p":0.8},{"f":2188.5,"p":0.7},{"f":2189.5,"p":0.9},
{"f":2190.5,"p":0.85},{"f":2191.5,"p":0.7},{"f":2192.5,"p":0.8},{"f":2193.5,"p":0.6},{"f":2194.5,"p":0.65},{"f":2195.5,"p":0.5},{"f":2196.5,"p":0.45},{"f":2197.5,"p":0.4},{"f":2198.5,"p":0.35},{"f":2199.5,"p":0.3},
{"f":2200.5,"p":0.2},{"f":2201.5,"p":0.35},{"f":2202.5,"p":0.25},{"f":2203.5,"p":0.15},{"f":2204.5,"p":0.3},{"f":2205.5,"p":0.2},{"f":2206.5,"p":0.4},{"f":2207.5,"p":0.1},{"f":2208.5,"p":0.3},{"f":2209.5,"p":0.25},
{"f":2210.5,"p":0.15},{"f":2211.5,"p":0.3},{"f":2212.5,"p":0.2},{"f":2213.5,"p":0.35},{"f":2214.5,"p":0.1},{"f":2215.5,"p":0.25},{"f":2216.5,"p":0.4},{"f":2217.5,"p":0.2},{"f":2218.5,"p":0.3},{"f":2219.5,"p":0.15},
{"f":2220.5,"p":0.35},{"f":2221.5,"p":0.25},{"f":2222.5,"p":0.2},{"f":2223.5,"p":0.4},{"f":2224.5,"p":0.3},{"f":2225.5,"p":0.5},{"f":2226.5,"p":0.4},{"f":2227.5,"p":0.55},{"f":2228.5,"p":0.45},{"f":2229.5,"p":0.6},
{"f":2230.5,"p":0.7},{"f":2231.5,"p":0.6},{"f":2232.5,"p":0.8},{"f":2233.5,"p":0.7},{"f":2234.5,"p":0.9},{"f":2235.5,"p":0.75},{"f":2236.5,"p":0.85},{"f":2237.5,"p":0.6},{"f":2238.5,"p":0.7},{"f":2239.5,"p":0.5},
{"f":2240.5,"p":0.45},{"f":2241.5,"p":0.4},{"f":2242.5,"p":0.35},{"f":2243.5,"p":0.3},{"f":2244.5,"p":0.4},{"f":2245.5,"p":0.2},{"f":2246.5,"p":0.3},{"f":2247.5,"p":0.25},{"f":2248.5,"p":0.15},{"f":2249.5,"p":0.3},
{"f":2250.5,"p":0.2},{"f":2251.5,"p":0.35},{"f":2252.5,"p":0.1},{"f":2253.5,"p":0.25},{"f":2254.5,"p":0.3},{"f":2255.5,"p":0.15},{"f":2256.5,"p":0.35},{"f":2257.5,"p":0.2},{"f":2258.5,"p":0.3},{"f":2259.5,"p":0.1},
{"f":2260.5,"p":0.25},{"f":2261.5,"p":0.35},{"f":2262.5,"p":0.2},{"f":2263.5,"p":0.3},{"f":2264.5,"p":0.15},{"f":2265.5,"p":0.4},{"f":2266.5,"p":0.25},{"f":2267.5,"p":0.35},{"f":2268.5,"p":0.3},{"f":2269.5,"p":0.45},
{"f":2270.5,"p":0.4},{"f":2271.5,"p":0.5},{"f":2272.5,"p":0.45},{"f":2273.5,"p":0.6},{"f":2274.5,"p":0.55},{"f":2275.5,"p":0.7},{"f":2276.5,"p":0.6},{"f":2277.5,"p":0.8},{"f":2278.5,"p":0.65},{"f":2279.5,"p":0.7},
{"f":2280.5,"p":0.6},{"f":2281.5,"p":0.65},{"f":2282.5,"p":0.5},{"f":2283.5,"p":0.55},{"f":2284.5,"p":0.4},{"f":2285.5,"p":0.45},{"f":2286.5,"p":0.3},{"f":2287.5,"p":0.35},{"f":2288.5,"p":0.25},{"f":2289.5,"p":0.3},
{"f":2290.5,"p":0.2},{"f":2291.5,"p":0.3},{"f":2292.5,"p":0.15},{"f":2293.5,"p":0.35},{"f":2294.5,"p":0.25},{"f":2295.5,"p":0.2},{"f":2296.5,"p":0.3},{"f":2297.5,"p":0.1},{"f":2298.5,"p":0.25},{"f":2299.5,"p":0.35},
{"f":2300.5,"p":0.2},{"f":2301.5,"p":0.3},{"f":2302.5,"p":0.15},{"f":2303.5,"p":0.25},{"f":2304.5,"p":0.4},{"f":2305.5,"p":0.2},{"f":2306.5,"p":0.3},{"f":2307.5,"p":0.15},{"f":2308.5,"p":0.35},{"f":2309.5,"p":0.25},
{"f":2310.5,"p":0.3},{"f":2311.5,"p":0.2},{"f":2312.5,"p":0.4},{"f":2313.5,"p":0.3},{"f":2314.5,"p":0.35},{"f":2315.5,"p":0.25},{"f":2316.5,"p":0.45},{"f":2317.5,"p":0.3},{"f":2318.5,"p":0.4},{"f":2319.5,"p":0.35},
{"f":2320.5,"p":0.5},{"f":2321.5,"p":0.4},{"f":2322.5,"p":0.45},{"f":2323.5,"p":0.35},{"f":2324.5,"p":0.5},{"f":2325.5,"p":0.3},{"f":2326.5,"p":0.4},{"f":2327.5,"p":0.25},{"f":2328.5,"p":0.35},{"f":2329.5,"p":0.2},
{"f":2330.5,"p":0.3},{"f":2331.5,"p":0.15},{"f":2332.5,"p":0.25},{"f":2333.5,"p":0.35},{"f":2334.5,"p":0.2},{"f":2335.5,"p":0.3},{"f":2336.5,"p":0.1},{"f":2337.5,"p":0.25},{"f":2338.5,"p":0.35},{"f":2339.5,"p":0.2},
{"f":2340.5,"p":0.3},{"f":2341.5,"p":0.25},{"f":2342.5,"p":0.15},{"f":2343.5,"p":0.35},{"f":2344.5,"p":0.2},{"f":2345.5,"p":0.3},{"f":2346.5,"p":0.4},{"f":2347.5,"p":0.25},{"f":2348.5,"p":0.35},{"f":2349.5,"p":0.3},
{"f":2350.5,"p":0.4},{"f":2351.5,"p":0.3},{"f":2352.5,"p":0.45},{"f":2353.5,"p":0.35},{"f":2354.5,"p":0.5},{"f":2355.5,"p":0.4},{"f":2356.5,"p":0.6},{"f":2357.5,"p":0.5},{"f":2358.5,"p":0.7},{"f":2359.5,"p":0.6},
{"f":2360.5,"p":0.8},{"f":2361.5,"p":0.7},{"f":2362.5,"p":0.85},{"f":2363.5,"p":0.75},{"f":2364.5,"p":0.8},{"f":2365.5,"p":0.6},{"f":2366.5,"p":0.7},{"f":2367.5,"p":0.5},{"f":2368.5,"p":0.55},{"f":2369.5,"p":0.4},
{"f":2370.5,"p":0.35},{"f":2371.5,"p":0.3},{"f":2372.5,"p":0.25},{"f":2373.5,"p":0.4},{"f":2374.5,"p":0.2},{"f":2375.5,"p":0.3},{"f":2376.5,"p":0.15},{"f":2377.5,"p":0.35},{"f":2378.5,"p":0.25},{"f":2379.5,"p":0.2},
{"f":2380.5,"p":0.3},{"f":2381.5,"p":0.15},{"f":2382.5,"p":0.35},{"f":2383.5,"p":0.2},{"f":2384.5,"p":0.25},{"f":2385.5,"p":0.4},{"f":2386.5,"p":0.3},{"f":2387.5,"p":0.2},{"f":2388.5,"p":0.35},{"f":2389.5,"p":0.25},
{"f":2390.5,"p":0.4},{"f":2391.5,"p":0.3},{"f":2392.5,"p":0.45},{"f":2393.5,"p":0.35},{"f":2394.5,"p":0.5},{"f":2395.5,"p":0.45},{"f":2396.5,"p":0.6},{"f":2397.5,"p":0.55},{"f":2398.5,"p":0.7},{"f":2399.5,"p":0.65},
{"f":2400.5,"p":0.75},{"f":2401.5,"p":0.7},{"f":2402.5,"p":0.8},{"f":2403.5,"p":0.65},{"f":2404.5,"p":0.75},{"f":2405.5,"p":0.6},{"f":2406.5,"p":0.65},{"f":2407.5,"p":0.5},{"f":2408.5,"p":0.55},{"f":2409.5,"p":0.45},
{"f":2410.5,"p":0.4},{"f":2411.5,"p":0.3},{"f":2412.5,"p":0.35},{"f":2413.5,"p":0.25},{"f":2414.5,"p":0.3},{"f":2415.5,"p":0.2},{"f":2416.5,"p":0.35},{"f":2417.5,"p":0.15},{"f":2418.5,"p":0.3},{"f":2419.5,"p":0.25},
{"f":2420.5,"p":0.2},{"f":2421.5,"p":0.35},{"f":2422.5,"p":0.15},{"f":2423.5,"p":0.3},{"f":2424.5,"p":0.25},{"f":2425.5,"p":0.2},{"f":2426.5,"p":0.4},{"f":2427.5,"p":0.1},{"f":2428.5,"p":0.3},{"f":2429.5,"p":0.2},
{"f":2430.5,"p":0.25},{"f":2431.5,"p":0.35},{"f":2432.5,"p":0.15},{"f":2433.5,"p":0.3},{"f":2434.5,"p":0.2},{"f":2435.5,"p":0.35},{"f":2436.5,"p":0.25},{"f":2437.5,"p":0.15},{"f":2438.5,"p":0.3},{"f":2439.5,"p":0.2}
]
},
"vconcat": [
{
"width": 901, "height": 144,
"resolve": {"axis": {"x": "independent", "y": "independent"}},
"layer": [
{"data": {"name": "spec"}, "mark": {"type": "line", "color": "#a4a4a4", "strokeWidth": 1.3, "clip": true},
 "encoding": {
  "x": {"field": "f", "type": "quantitative", "scale": {"domain": [1210, 1540], "nice": false, "zero": false},
   "axis": {"orient": "bottom", "values": [1210,1220,1230,1240,1250,1260,1270,1280,1290,1300,1310,1320,1330,1340,1350,1360,1370,1380,1390,1400,1410,1420,1430,1440,1450,1460,1470,1480,1490,1500,1510,1520,1530,1540], "format": "d", "labelExpr": "datum.value % 50 === 0 ? datum.label : ''", "tickSize": {"condition": {"test": "datum.value % 50 === 0", "value": -7}, "value": -4}, "labelPadding": 11, "title": null}},
  "y": {"field": "p", "type": "quantitative", "scale": {"domain": [-0.12, 5.12], "nice": false, "zero": false},
   "axis": {"orient": "left", "values": [0,1,2,3,4,5], "tickSize": -6, "labelPadding": 7, "title": null}}
 }},
{"data": {"name": "vl"}, "mark": {"type": "rule", "color": "black", "strokeWidth": 1.5, "clip": true},
 "encoding": {
  "x": {"field": "f", "type": "quantitative", "scale": {"domain": [1210, 1540], "nice": false, "zero": false},
   "axis": {"orient": "top", "values": [1210,1220,1230,1240,1250,1260,1270,1280,1290,1300,1310,1320,1330,1340,1350,1360,1370,1380,1390,1400,1410,1420,1430,1440,1450,1460,1470,1480,1490,1500,1510,1520,1530,1540], "labels": false, "tickSize": {"condition": {"test": "datum.value % 50 === 0", "value": -7}, "value": -4}, "title": null}},
  "y": {"datum": 0, "type": "quantitative", "scale": {"domain": [-0.12, 5.12], "nice": false, "zero": false}, "axis": null},
  "y2": {"datum": 4.95}
 }},
{"data": {"name": "fit"}, "mark": {"type": "line", "color": "black", "strokeWidth": 3.5, "interpolate": "monotone", "clip": true},
 "encoding": {
  "x": {"field": "f", "type": "quantitative", "scale": {"domain": [1210, 1540], "nice": false, "zero": false}, "axis": null},
  "y": {"field": "p", "type": "quantitative", "scale": {"domain": [-0.12, 5.12], "nice": false, "zero": false},
   "axis": {"orient": "right", "values": [0,1,2,3,4,5], "labels": false, "tickSize": -6, "title": null}}
 }}
]
},
{
"width": 901, "height": 144,
"resolve": {"axis": {"x": "independent", "y": "independent"}},
"layer": [
{"data": {"name": "spec"}, "mark": {"type": "line", "color": "#a4a4a4", "strokeWidth": 1.3, "clip": true},
 "encoding": {
  "x": {"field": "f", "type": "quantitative", "scale": {"domain": [1511, 1841], "nice": false, "zero": false},
   "axis": {"orient": "bottom", "values": [1520,1530,1540,1550,1560,1570,1580,1590,1600,1610,1620,1630,1640,1650,1660,1670,1680,1690,1700,1710,1720,1730,1740,1750,1760,1770,1780,1790,1800,1810,1820,1830,1840], "format": "d", "labelExpr": "datum.value % 50 === 0 ? datum.label : ''", "tickSize": {"condition": {"test": "datum.value % 50 === 0", "value": -7}, "value": -4}, "labelPadding": 11, "title": null}},
  "y": {"field": "p", "type": "quantitative", "scale": {"domain": [-0.12, 5.12], "nice": false, "zero": false},
   "axis": {"orient": "left", "values": [0,1,2,3,4,5], "tickSize": -6, "labelPadding": 7, "title": "power density [ppm²/μHz]", "titleX": -43, "titleY": 170, "titleBaseline": "middle", "titleAngle": 270}}
 }},
{"data": {"name": "vl"}, "mark": {"type": "rule", "color": "black", "strokeWidth": 1.5, "clip": true},
 "encoding": {
  "x": {"field": "f", "type": "quantitative", "scale": {"domain": [1511, 1841], "nice": false, "zero": false},
   "axis": {"orient": "top", "values": [1520,1530,1540,1550,1560,1570,1580,1590,1600,1610,1620,1630,1640,1650,1660,1670,1680,1690,1700,1710,1720,1730,1740,1750,1760,1770,1780,1790,1800,1810,1820,1830,1840], "labels": false, "tickSize": {"condition": {"test": "datum.value % 50 === 0", "value": -7}, "value": -4}, "title": null}},
  "y": {"datum": 0, "type": "quantitative", "scale": {"domain": [-0.12, 5.12], "nice": false, "zero": false}, "axis": null},
  "y2": {"datum": 4.95}
 }},
{"data": {"name": "fit"}, "mark": {"type": "line", "color": "black", "strokeWidth": 3.5, "interpolate": "monotone", "clip": true},
 "encoding": {
  "x": {"field": "f", "type": "quantitative", "scale": {"domain": [1511, 1841], "nice": false, "zero": false}, "axis": null},
  "y": {"field": "p", "type": "quantitative", "scale": {"domain": [-0.12, 5.12], "nice": false, "zero": false},
   "axis": {"orient": "right", "values": [0,1,2,3,4,5], "labels": false, "tickSize": -6, "title": null}}
 }}
]
},
{
"width": 901, "height": 144,
"resolve": {"axis": {"x": "independent", "y": "independent"}},
"layer": [
{"data": {"name": "spec"}, "mark": {"type": "line", "color": "#a4a4a4", "strokeWidth": 1.3, "clip": true},
 "encoding": {
  "x": {"field": "f", "type": "quantitative", "scale": {"domain": [1810, 2140], "nice": false, "zero": false},
   "axis": {"orient": "bottom", "values": [1810,1820,1830,1840,1850,1860,1870,1880,1890,1900,1910,1920,1930,1940,1950,1960,1970,1980,1990,2000,2010,2020,2030,2040,2050,2060,2070,2080,2090,2100,2110,2120,2130,2140], "format": "d", "labelExpr": "datum.value % 50 === 0 ? datum.label : ''", "tickSize": {"condition": {"test": "datum.value % 50 === 0", "value": -7}, "value": -4}, "labelPadding": 11, "title": null}},
  "y": {"field": "p", "type": "quantitative", "scale": {"domain": [-0.12, 5.12], "nice": false, "zero": false},
   "axis": {"orient": "left", "values": [0,1,2,3,4,5], "tickSize": -6, "labelPadding": 7, "title": null}}
 }},
{"data": {"name": "vl"}, "mark": {"type": "rule", "color": "black", "strokeWidth": 1.5, "clip": true},
 "encoding": {
  "x": {"field": "f", "type": "quantitative", "scale": {"domain": [1810, 2140], "nice": false, "zero": false},
   "axis": {"orient": "top", "values": [1810,1820,1830,1840,1850,1860,1870,1880,1890,1900,1910,1920,1930,1940,1950,1960,1970,1980,1990,2000,2010,2020,2030,2040,2050,2060,2070,2080,2090,2100,2110,2120,2130,2140], "labels": false, "tickSize": {"condition": {"test": "datum.value % 50 === 0", "value": -7}, "value": -4}, "title": null}},
  "y": {"datum": 0, "type": "quantitative", "scale": {"domain": [-0.12, 5.12], "nice": false, "zero": false}, "axis": null},
  "y2": {"datum": 4.95}
 }},
{"data": {"name": "fit"}, "mark": {"type": "line", "color": "black", "strokeWidth": 3.5, "interpolate": "monotone", "clip": true},
 "encoding": {
  "x": {"field": "f", "type": "quantitative", "scale": {"domain": [1810, 2140], "nice": false, "zero": false}, "axis": null},
  "y": {"field": "p", "type": "quantitative", "scale": {"domain": [-0.12, 5.12], "nice": false, "zero": false},
   "axis": {"orient": "right", "values": [0,1,2,3,4,5], "labels": false, "tickSize": -6, "title": null}}
 }}
]
},
{
"width": 901, "height": 144,
"resolve": {"axis": {"x": "independent", "y": "independent"}},
"layer": [
{"data": {"name": "spec"}, "mark": {"type": "line", "color": "#a4a4a4", "strokeWidth": 1.3, "clip": true},
 "encoding": {
  "x": {"field": "f", "type": "quantitative", "scale": {"domain": [2110, 2440], "nice": false, "zero": false},
   "axis": {"orient": "bottom", "values": [2110,2120,2130,2140,2150,2160,2170,2180,2190,2200,2210,2220,2230,2240,2250,2260,2270,2280,2290,2300,2310,2320,2330,2340,2350,2360,2370,2380,2390,2400,2410,2420,2430,2440], "format": "d", "labelExpr": "datum.value % 50 === 0 ? datum.label : ''", "tickSize": {"condition": {"test": "datum.value % 50 === 0", "value": -7}, "value": -4}, "labelPadding": 11, "title": "frequency [μHz]", "titleY": 42, "titleBaseline": "middle"}},
  "y": {"field": "p", "type": "quantitative", "scale": {"domain": [-0.12, 5.12], "nice": false, "zero": false},
   "axis": {"orient": "left", "values": [0,1,2,3,4,5], "tickSize": -6, "labelPadding": 7, "title": null}}
 }},
{"data": {"name": "vl"}, "mark": {"type": "rule", "color": "black", "strokeWidth": 1.5, "clip": true},
 "encoding": {
  "x": {"field": "f", "type": "quantitative", "scale": {"domain": [2110, 2440], "nice": false, "zero": false},
   "axis": {"orient": "top", "values": [2110,2120,2130,2140,2150,2160,2170,2180,2190,2200,2210,2220,2230,2240,2250,2260,2270,2280,2290,2300,2310,2320,2330,2340,2350,2360,2370,2380,2390,2400,2410,2420,2430,2440], "labels": false, "tickSize": {"condition": {"test": "datum.value % 50 === 0", "value": -7}, "value": -4}, "title": null}},
  "y": {"datum": 0, "type": "quantitative", "scale": {"domain": [-0.12, 5.12], "nice": false, "zero": false}, "axis": null},
  "y2": {"datum": 4.95}
 }},
{"data": {"name": "dot"}, "mark": {"type": "line", "color": "black", "strokeWidth": 2.6, "strokeDash": [2, 3], "interpolate": "monotone", "clip": true},
 "encoding": {
  "x": {"field": "f", "type": "quantitative", "scale": {"domain": [2110, 2440], "nice": false, "zero": false}, "axis": null},
  "y": {"field": "p", "type": "quantitative", "scale": {"domain": [-0.12, 5.12], "nice": false, "zero": false}, "axis": null}
 }},
{"data": {"name": "fit"}, "mark": {"type": "line", "color": "black", "strokeWidth": 3.5, "interpolate": "monotone", "clip": true},
 "encoding": {
  "x": {"field": "f", "type": "quantitative", "scale": {"domain": [2110, 2440], "nice": false, "zero": false}, "axis": null},
  "y": {"field": "p", "type": "quantitative", "scale": {"domain": [-0.12, 5.12], "nice": false, "zero": false},
   "axis": {"orient": "right", "values": [0,1,2,3,4,5], "labels": false, "tickSize": -6, "title": null}}
 }}
]
}
]
}
